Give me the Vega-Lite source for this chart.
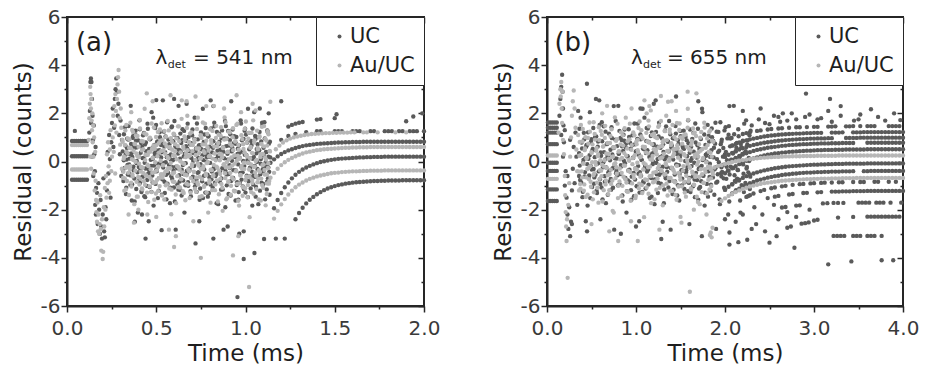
{
"$schema":"https://vega.github.io/schema/vega-lite/v6.json",
"background":"white",
"padding":{"left":11,"top":6,"right":2,"bottom":2},
"bounds":"flush",
"spacing":123,
"resolve":{"scale":{"color":"independent"}},
"config":{
"font":"DejaVu Sans",
"view":{"stroke":"#262626","strokeWidth":2},
"axis":{"labelFont":"DejaVu Sans","titleFont":"DejaVu Sans","labelFontSize":20,"titleFontSize":23,"titleFontWeight":"normal","labelColor":"#3a3a3a","titleColor":"#1e1e1e","domainColor":"#262626","domainWidth":2,"tickColor":"#262626","tickWidth":1.5,"grid":false,"labelPadding":1,"titlePadding":5,"labelFlush":false},
"axisX":{"labelPadding":6,"titlePadding":4},
"legend":{"labelFont":"DejaVu Sans","labelFontSize":21,"labelColor":"#1e1e1e"},
"text":{"font":"DejaVu Sans","color":"#1e1e1e"}
},
"datasets":{
"aU":[
{"t":0.028,"r":0.85},{"t":0.04,"r":0.85},{"t":0.052,"r":0.85},{"t":0.064,"r":0.85},{"t":0.076,"r":0.85},{"t":0.088,"r":0.85},{"t":0.1,"r":0.85},{"t":0.112,"r":0.85},
{"t":0.028,"r":0.22},{"t":0.04,"r":0.22},{"t":0.052,"r":0.22},{"t":0.064,"r":0.22},{"t":0.076,"r":0.22},{"t":0.088,"r":0.22},{"t":0.1,"r":0.22},{"t":0.112,"r":0.22},
{"t":0.028,"r":-0.76},{"t":0.04,"r":-0.76},{"t":0.052,"r":-0.76},{"t":0.064,"r":-0.76},{"t":0.076,"r":-0.76},{"t":0.088,"r":-0.76},{"t":0.1,"r":-0.76},{"t":0.112,"r":-0.76},
{"t":0.044,"r":1.27},
{"t":0.125,"r":1.2},{"t":0.128,"r":2.1},{"t":0.131,"r":3.3},{"t":0.134,"r":3.45},{"t":0.137,"r":3.3},{"t":0.14,"r":2.6},{"t":0.143,"r":1.9},{"t":0.146,"r":0.9},{"t":0.15,"r":1.5},{"t":0.153,"r":0.3},{"t":0.156,"r":-0.4},{"t":0.16,"r":0.6},{"t":0.163,"r":-1.1},{"t":0.14,"r":0.2},{"t":0.147,"r":-0.6},{"t":0.135,"r":1.6},{"t":0.158,"r":-1.8},{"t":0.162,"r":-2.2},
{"t":0.168,"r":-1.3},{"t":0.172,"r":-2.6},{"t":0.176,"r":-0.9},{"t":0.18,"r":-2.0},{"t":0.184,"r":-3.0},{"t":0.188,"r":-1.6},{"t":0.192,"r":-2.7},{"t":0.196,"r":-3.2},{"t":0.2,"r":-2.2},{"t":0.204,"r":-0.7},{"t":0.208,"r":-2.9},{"t":0.212,"r":-3.15},{"t":0.216,"r":-1.9},{"t":0.22,"r":-2.4},{"t":0.224,"r":-1.2},{"t":0.228,"r":0.4},{"t":0.232,"r":-0.5},{"t":0.236,"r":1.1},{"t":0.24,"r":0.1},{"t":0.244,"r":-1.5},{"t":0.248,"r":0.8},{"t":0.252,"r":1.6},
{"t":0.256,"r":2.2},{"t":0.26,"r":0.6},{"t":0.264,"r":1.4},{"t":0.268,"r":2.6},{"t":0.272,"r":3.0},{"t":0.276,"r":3.45},{"t":0.28,"r":2.9},{"t":0.284,"r":1.9},{"t":0.288,"r":2.4},{"t":0.292,"r":1.1},{"t":0.296,"r":0.3},{"t":0.3,"r":1.7},{"t":0.304,"r":-0.6},{"t":0.308,"r":0.9},
{"t":0.312,"r":0.42},{"t":0.316,"r":-0.81},{"t":0.319,"r":1.13},{"t":0.323,"r":-0.27},{"t":0.327,"r":0.66},{"t":0.33,"r":-1.35},{"t":0.334,"r":0.08},{"t":0.337,"r":0.95},{"t":0.341,"r":-0.54},{"t":0.345,"r":1.47},
{"t":0.348,"r":-0.12},{"t":0.352,"r":0.31},{"t":0.355,"r":-0.98},{"t":0.359,"r":0.73},{"t":0.363,"r":-1.62},{"t":0.366,"r":0.19},{"t":0.37,"r":1.05},{"t":0.373,"r":-0.36},{"t":0.377,"r":-0.71},{"t":0.381,"r":0.57},
{"t":0.384,"r":1.28},{"t":0.388,"r":-1.14},{"t":0.391,"r":0.02},{"t":0.395,"r":-0.45},{"t":0.399,"r":0.88},{"t":0.402,"r":-0.23},{"t":0.406,"r":1.71},{"t":0.409,"r":-0.89},{"t":0.413,"r":0.36},{"t":0.417,"r":-1.27},
{"t":0.42,"r":0.61},{"t":0.424,"r":0.14},{"t":0.427,"r":-0.62},{"t":0.431,"r":1.19},{"t":0.435,"r":-0.05},{"t":0.438,"r":-1.48},{"t":0.442,"r":0.79},{"t":0.445,"r":0.27},{"t":0.449,"r":-0.77},{"t":0.453,"r":1.36},
{"t":0.456,"r":-0.31},{"t":0.46,"r":0.52},{"t":0.463,"r":-1.06},{"t":0.467,"r":0.93},{"t":0.471,"r":-0.18},{"t":0.474,"r":2.05},{"t":0.478,"r":-0.58},{"t":0.481,"r":0.11},{"t":0.485,"r":-1.83},{"t":0.489,"r":0.69},
{"t":0.492,"r":0.24},{"t":0.496,"r":-0.93},{"t":0.499,"r":1.52},{"t":0.503,"r":-0.41},{"t":0.507,"r":0.83},{"t":0.51,"r":-0.09},{"t":0.514,"r":-1.21},{"t":0.517,"r":0.47},{"t":0.521,"r":1.01},{"t":0.525,"r":-0.66},
{"t":0.528,"r":0.17},{"t":0.532,"r":-1.38},{"t":0.535,"r":0.74},{"t":0.539,"r":-0.25},{"t":0.543,"r":1.24},{"t":0.546,"r":-0.84},{"t":0.55,"r":0.39},{"t":0.553,"r":-0.03},{"t":0.557,"r":-1.57},{"t":0.561,"r":1.63},
{"t":0.564,"r":-0.49},{"t":0.568,"r":0.91},{"t":0.571,"r":-0.14},{"t":0.575,"r":0.56},{"t":0.579,"r":-1.09},{"t":0.582,"r":0.29},{"t":0.586,"r":1.42},{"t":0.589,"r":-0.72},{"t":0.593,"r":0.05},{"t":0.597,"r":-0.38},
{"t":0.6,"r":1.11},{"t":0.604,"r":-1.66},{"t":0.607,"r":0.63},{"t":0.611,"r":-0.21},{"t":0.615,"r":0.98},{"t":0.618,"r":-0.95},{"t":0.622,"r":0.33},{"t":0.625,"r":2.31},{"t":0.629,"r":-0.57},{"t":0.633,"r":0.12},
{"t":0.636,"r":-1.19},{"t":0.64,"r":0.77},{"t":0.643,"r":-0.34},{"t":0.647,"r":1.34},{"t":0.651,"r":-0.79},{"t":0.654,"r":0.21},{"t":0.658,"r":-2.12},{"t":0.661,"r":0.59},{"t":0.665,"r":-0.07},{"t":0.669,"r":0.86},
{"t":0.672,"r":-0.51},{"t":0.676,"r":1.57},{"t":0.679,"r":-1.01},{"t":0.683,"r":0.43},{"t":0.687,"r":-0.29},{"t":0.69,"r":0.71},{"t":0.694,"r":-1.44},{"t":0.697,"r":0.15},{"t":0.701,"r":1.09},{"t":0.705,"r":-0.63},
{"t":0.708,"r":0.35},{"t":0.712,"r":-0.17},{"t":0.715,"r":1.82},{"t":0.719,"r":-0.87},{"t":0.723,"r":0.54},{"t":0.726,"r":-1.26},{"t":0.73,"r":0.07},{"t":0.733,"r":0.92},{"t":0.737,"r":-0.44},{"t":0.741,"r":-2.48},
{"t":0.744,"r":0.68},{"t":0.748,"r":-0.11},{"t":0.751,"r":1.21},{"t":0.755,"r":-0.69},{"t":0.759,"r":0.26},{"t":0.762,"r":-1.52},{"t":0.766,"r":0.81},{"t":0.769,"r":-0.33},{"t":0.773,"r":0.47},{"t":0.777,"r":1.39},
{"t":0.78,"r":-0.92},{"t":0.784,"r":0.18},{"t":0.787,"r":-0.55},{"t":0.791,"r":1.04},{"t":0.795,"r":-1.31},{"t":0.798,"r":0.62},{"t":0.802,"r":-0.06},{"t":0.805,"r":2.54},{"t":0.809,"r":-0.74},{"t":0.813,"r":0.38},
{"t":0.816,"r":-1.08},{"t":0.82,"r":0.84},{"t":0.823,"r":-0.24},{"t":0.827,"r":1.46},{"t":0.831,"r":-0.61},{"t":0.834,"r":0.09},{"t":0.838,"r":-1.73},{"t":0.841,"r":0.72},{"t":0.845,"r":0.23},{"t":0.849,"r":-0.46},
{"t":0.852,"r":1.16},{"t":0.856,"r":-0.83},{"t":0.859,"r":0.49},{"t":0.863,"r":-1.17},{"t":0.867,"r":0.97},{"t":0.87,"r":-0.28},{"t":0.874,"r":0.58},{"t":0.877,"r":-2.83},{"t":0.881,"r":0.13},{"t":0.885,"r":1.68},
{"t":0.888,"r":-0.39},{"t":0.892,"r":0.64},{"t":0.895,"r":-0.99},{"t":0.899,"r":0.32},{"t":0.903,"r":1.27},{"t":0.906,"r":-0.52},{"t":0.91,"r":-0.15},{"t":0.913,"r":0.89},{"t":0.917,"r":-1.41},{"t":0.921,"r":0.44},
{"t":0.924,"r":0.03},{"t":0.928,"r":1.33},{"t":0.931,"r":-0.68},{"t":0.935,"r":0.76},{"t":0.939,"r":-1.23},{"t":0.942,"r":0.22},{"t":0.946,"r":-0.37},{"t":0.949,"r":1.02},{"t":0.953,"r":-0.86},{"t":0.957,"r":0.53},
{"t":0.96,"r":-1.59},{"t":0.964,"r":0.67},{"t":0.967,"r":0.16},{"t":0.971,"r":-0.47},{"t":0.975,"r":1.58},{"t":0.978,"r":-0.75},{"t":0.982,"r":0.41},{"t":0.985,"r":-1.03},{"t":0.989,"r":0.94},{"t":0.993,"r":-0.19},
{"t":0.996,"r":0.28},{"t":1.0,"r":-1.29},{"t":1.003,"r":1.12},{"t":1.007,"r":-0.59},{"t":1.011,"r":0.06},{"t":1.014,"r":2.19},{"t":1.018,"r":-0.82},{"t":1.021,"r":0.51},{"t":1.025,"r":-0.26},{"t":1.029,"r":-1.12},
{"t":1.032,"r":0.85},{"t":1.036,"r":-0.42},{"t":1.039,"r":1.37},{"t":1.043,"r":-0.96},{"t":1.047,"r":0.19},{"t":1.05,"r":-0.64},{"t":1.054,"r":1.06},{"t":1.057,"r":-1.46},{"t":1.061,"r":0.34},{"t":1.065,"r":-0.01},
{"t":1.068,"r":0.72},{"t":1.072,"r":-1.77},{"t":1.075,"r":0.45},{"t":1.079,"r":1.23},{"t":1.083,"r":-0.53},{"t":1.086,"r":0.1},{"t":1.09,"r":-0.88},{"t":1.093,"r":1.61},{"t":1.097,"r":-0.32},{"t":1.101,"r":0.57},
{"t":1.104,"r":-3.22},{"t":1.108,"r":0.96},{"t":1.111,"r":-0.22},{"t":1.115,"r":0.4},{"t":1.119,"r":-1.16},{"t":1.122,"r":1.29},{"t":1.126,"r":-0.7},{"t":1.129,"r":0.2},{"t":1.133,"r":-0.43},{"t":1.137,"r":0.82},
{"t":0.314,"r":-0.38},{"t":0.318,"r":0.05},{"t":0.321,"r":-0.72},{"t":0.325,"r":1.42},{"t":0.329,"r":0.29},{"t":0.332,"r":-1.09},{"t":0.336,"r":0.56},{"t":0.339,"r":-0.14},{"t":0.343,"r":0.91},{"t":0.347,"r":-0.49},
{"t":0.35,"r":0.12},{"t":0.354,"r":-0.57},{"t":0.357,"r":2.31},{"t":0.361,"r":0.33},{"t":0.365,"r":-0.95},{"t":0.368,"r":0.98},{"t":0.372,"r":-0.21},{"t":0.375,"r":0.63},{"t":0.379,"r":-1.66},{"t":0.383,"r":1.11},
{"t":0.386,"r":0.86},{"t":0.39,"r":-0.07},{"t":0.393,"r":0.59},{"t":0.397,"r":-2.12},{"t":0.401,"r":0.21},{"t":0.404,"r":-0.79},{"t":0.408,"r":1.34},{"t":0.411,"r":-0.34},{"t":0.415,"r":0.77},{"t":0.419,"r":-1.19},
{"t":0.422,"r":-0.63},{"t":0.426,"r":1.09},{"t":0.429,"r":0.15},{"t":0.433,"r":-1.44},{"t":0.437,"r":0.71},{"t":0.44,"r":-0.29},{"t":0.444,"r":0.43},{"t":0.447,"r":-1.01},{"t":0.451,"r":1.57},{"t":0.455,"r":-0.51},
{"t":0.458,"r":-2.48},{"t":0.462,"r":-0.44},{"t":0.465,"r":0.92},{"t":0.469,"r":0.07},{"t":0.473,"r":-1.26},{"t":0.476,"r":0.54},{"t":0.48,"r":-0.87},{"t":0.483,"r":1.82},{"t":0.487,"r":-0.17},{"t":0.491,"r":0.35},
{"t":0.494,"r":1.39},{"t":0.498,"r":0.47},{"t":0.501,"r":-0.33},{"t":0.505,"r":0.81},{"t":0.509,"r":-1.52},{"t":0.512,"r":0.26},{"t":0.516,"r":-0.69},{"t":0.519,"r":1.21},{"t":0.523,"r":-0.11},{"t":0.527,"r":0.68},
{"t":0.53,"r":0.38},{"t":0.534,"r":-0.74},{"t":0.537,"r":2.54},{"t":0.541,"r":-0.06},{"t":0.545,"r":0.62},{"t":0.548,"r":-1.31},{"t":0.552,"r":1.04},{"t":0.555,"r":-0.55},{"t":0.559,"r":0.18},{"t":0.563,"r":-0.92},
{"t":0.566,"r":-0.46},{"t":0.57,"r":0.23},{"t":0.573,"r":0.72},{"t":0.577,"r":-1.73},{"t":0.581,"r":0.09},{"t":0.584,"r":-0.61},{"t":0.588,"r":1.46},{"t":0.591,"r":-0.24},{"t":0.595,"r":0.84},{"t":0.599,"r":-1.08},
{"t":0.602,"r":1.68},{"t":0.606,"r":0.13},{"t":0.609,"r":-2.83},{"t":0.613,"r":0.58},{"t":0.617,"r":-0.28},{"t":0.62,"r":0.97},{"t":0.624,"r":-1.17},{"t":0.627,"r":0.49},{"t":0.631,"r":-0.83},{"t":0.635,"r":1.16},
{"t":0.638,"r":0.44},{"t":0.642,"r":-1.41},{"t":0.645,"r":0.89},{"t":0.649,"r":-0.15},{"t":0.653,"r":-0.52},{"t":0.656,"r":1.27},{"t":0.66,"r":0.32},{"t":0.663,"r":-0.99},{"t":0.667,"r":0.64},{"t":0.671,"r":-0.39},
{"t":0.674,"r":0.53},{"t":0.678,"r":-0.86},{"t":0.681,"r":1.02},{"t":0.685,"r":-0.37},{"t":0.689,"r":0.22},{"t":0.692,"r":-1.23},{"t":0.696,"r":0.76},{"t":0.699,"r":-0.68},{"t":0.703,"r":1.33},{"t":0.707,"r":0.03},
{"t":0.71,"r":-0.19},{"t":0.714,"r":0.94},{"t":0.717,"r":-1.03},{"t":0.721,"r":0.41},{"t":0.725,"r":-0.75},{"t":0.728,"r":1.58},{"t":0.732,"r":-0.47},{"t":0.735,"r":0.16},{"t":0.739,"r":0.67},{"t":0.743,"r":-1.59},
{"t":0.746,"r":-1.12},{"t":0.75,"r":-0.26},{"t":0.753,"r":0.51},{"t":0.757,"r":-0.82},{"t":0.761,"r":2.19},{"t":0.764,"r":0.06},{"t":0.768,"r":-0.59},{"t":0.771,"r":1.12},{"t":0.775,"r":-1.29},{"t":0.779,"r":0.28},
{"t":0.782,"r":-0.01},{"t":0.786,"r":0.34},{"t":0.789,"r":-1.46},{"t":0.793,"r":1.06},{"t":0.797,"r":-0.64},{"t":0.8,"r":0.19},{"t":0.804,"r":-0.96},{"t":0.807,"r":1.37},{"t":0.811,"r":-0.42},{"t":0.815,"r":0.85},
{"t":0.818,"r":0.57},{"t":0.822,"r":-0.32},{"t":0.825,"r":1.61},{"t":0.829,"r":-0.88},{"t":0.833,"r":0.1},{"t":0.836,"r":-0.53},{"t":0.84,"r":1.23},{"t":0.843,"r":0.45},{"t":0.847,"r":-1.77},{"t":0.851,"r":0.72},
{"t":0.854,"r":0.82},{"t":0.858,"r":-0.43},{"t":0.861,"r":0.2},{"t":0.865,"r":-0.7},{"t":0.869,"r":1.29},{"t":0.872,"r":-1.16},{"t":0.876,"r":0.4},{"t":0.879,"r":-0.22},{"t":0.883,"r":0.96},{"t":0.887,"r":-1.9},
{"t":0.89,"r":1.47},{"t":0.894,"r":-0.54},{"t":0.897,"r":0.95},{"t":0.901,"r":0.08},{"t":0.905,"r":-1.35},{"t":0.908,"r":0.66},{"t":0.912,"r":-0.27},{"t":0.915,"r":1.13},{"t":0.919,"r":-0.81},{"t":0.923,"r":0.42},
{"t":0.926,"r":0.57},{"t":0.93,"r":-0.71},{"t":0.933,"r":-0.36},{"t":0.937,"r":1.05},{"t":0.941,"r":0.19},{"t":0.944,"r":-1.62},{"t":0.948,"r":0.73},{"t":0.951,"r":-0.98},{"t":0.955,"r":0.31},{"t":0.959,"r":-0.12},
{"t":0.962,"r":-1.27},{"t":0.966,"r":0.36},{"t":0.969,"r":-0.89},{"t":0.973,"r":1.71},{"t":0.977,"r":-0.23},{"t":0.98,"r":0.88},{"t":0.984,"r":-0.45},{"t":0.987,"r":0.02},{"t":0.991,"r":-1.14},{"t":0.995,"r":1.28},
{"t":0.998,"r":1.36},{"t":1.002,"r":-0.77},{"t":1.005,"r":0.27},{"t":1.009,"r":0.79},{"t":1.013,"r":-1.48},{"t":1.016,"r":-0.05},{"t":1.02,"r":1.19},{"t":1.023,"r":-0.62},{"t":1.027,"r":0.14},{"t":1.031,"r":0.61},
{"t":1.034,"r":0.69},{"t":1.038,"r":-1.83},{"t":1.041,"r":0.11},{"t":1.045,"r":-0.58},{"t":1.049,"r":2.05},{"t":1.052,"r":-0.18},{"t":1.056,"r":0.93},{"t":1.059,"r":-1.06},{"t":1.063,"r":0.52},{"t":1.067,"r":-0.31},
{"t":1.07,"r":-0.66},{"t":1.074,"r":1.01},{"t":1.077,"r":0.47},{"t":1.081,"r":-1.21},{"t":1.085,"r":-0.09},{"t":1.088,"r":0.83},{"t":1.092,"r":-0.41},{"t":1.095,"r":1.52},{"t":1.099,"r":-0.93},{"t":1.103,"r":0.24},
{"t":1.106,"r":1.63},{"t":1.11,"r":-1.57},{"t":1.113,"r":-0.03},{"t":1.117,"r":0.39},{"t":1.121,"r":-0.84},{"t":1.124,"r":1.24},{"t":1.128,"r":-0.25},{"t":1.131,"r":0.74},{"t":1.135,"r":-1.38},{"t":1.139,"r":0.17},
{"t":0.5,"r":2.55},{"t":0.6,"r":2.6},{"t":0.67,"r":2.4},{"t":0.82,"r":2.3},{"t":0.92,"r":2.5},{"t":1.08,"r":2.2},{"t":1.2,"r":2.5},{"t":1.13,"r":2.0},{"t":0.955,"r":-5.63},{"t":0.99,"r":-4.05},{"t":1.05,"r":-3.8},{"t":0.44,"r":-3.2},{"t":0.53,"r":-2.85},{"t":0.72,"r":-3.4},{"t":0.82,"r":-3.2},{"t":0.965,"r":-3.0},{"t":1.17,"r":-3.2},{"t":1.22,"r":-3.2},{"t":0.38,"r":-2.5},{"t":0.42,"r":-2.2},{"t":0.9,"r":-2.7},{"t":0.99,"r":-2.9},
{"t":1.28,"r":-2.4},{"t":1.3,"r":-2.14},{"t":1.32,"r":-1.92},{"t":1.34,"r":-1.74},{"t":1.36,"r":-1.59},{"t":1.38,"r":-1.47},{"t":1.4,"r":-1.36},{"t":1.42,"r":-1.27},{"t":1.44,"r":-1.19},{"t":1.46,"r":-1.12},{"t":1.48,"r":-1.07},{"t":1.5,"r":-1.02},{"t":1.52,"r":-0.98},{"t":1.54,"r":-0.95},{"t":1.56,"r":-0.92},{"t":1.58,"r":-0.9},{"t":1.6,"r":-0.88},{"t":1.62,"r":-0.86},{"t":1.64,"r":-0.85},{"t":1.66,"r":-0.84},{"t":1.68,"r":-0.83},{"t":1.7,"r":-0.82},{"t":1.72,"r":-0.81},{"t":1.74,"r":-0.81},{"t":1.76,"r":-0.8},{"t":1.78,"r":-0.8},{"t":1.8,"r":-0.79},{"t":1.82,"r":-0.79},{"t":1.84,"r":-0.79},{"t":1.86,"r":-0.79},{"t":1.88,"r":-0.78},{"t":1.9,"r":-0.78},{"t":1.92,"r":-0.78},{"t":1.94,"r":-0.78},{"t":1.96,"r":-0.78},{"t":1.98,"r":-0.78},{"t":2.0,"r":-0.78},
{"t":1.16,"r":-1.94},{"t":1.18,"r":-1.6},{"t":1.2,"r":-1.31},{"t":1.22,"r":-1.07},{"t":1.24,"r":-0.87},{"t":1.26,"r":-0.7},{"t":1.28,"r":-0.55},{"t":1.3,"r":-0.43},{"t":1.32,"r":-0.33},{"t":1.34,"r":-0.25},{"t":1.36,"r":-0.18},{"t":1.38,"r":-0.12},{"t":1.4,"r":-0.07},{"t":1.42,"r":-0.02},{"t":1.44,"r":0.01},{"t":1.46,"r":0.04},{"t":1.48,"r":0.07},{"t":1.5,"r":0.09},{"t":1.52,"r":0.11},{"t":1.54,"r":0.12},{"t":1.56,"r":0.13},{"t":1.58,"r":0.14},{"t":1.6,"r":0.15},{"t":1.62,"r":0.16},{"t":1.64,"r":0.17},{"t":1.66,"r":0.17},{"t":1.68,"r":0.18},{"t":1.7,"r":0.18},{"t":1.72,"r":0.19},{"t":1.74,"r":0.19},{"t":1.76,"r":0.19},{"t":1.78,"r":0.2},{"t":1.8,"r":0.2},{"t":1.82,"r":0.2},{"t":1.84,"r":0.2},{"t":1.86,"r":0.2},{"t":1.88,"r":0.2},{"t":1.9,"r":0.2},{"t":1.92,"r":0.2},{"t":1.94,"r":0.2},{"t":1.96,"r":0.2},{"t":1.98,"r":0.2},{"t":2.0,"r":0.2},
{"t":1.1,"r":-0.41},{"t":1.12,"r":-0.21},{"t":1.14,"r":-0.05},{"t":1.16,"r":0.09},{"t":1.18,"r":0.21},{"t":1.2,"r":0.31},{"t":1.22,"r":0.39},{"t":1.24,"r":0.46},{"t":1.26,"r":0.51},{"t":1.28,"r":0.56},{"t":1.3,"r":0.6},{"t":1.32,"r":0.64},{"t":1.34,"r":0.67},{"t":1.36,"r":0.69},{"t":1.38,"r":0.71},{"t":1.4,"r":0.73},{"t":1.42,"r":0.74},{"t":1.44,"r":0.75},{"t":1.46,"r":0.76},{"t":1.48,"r":0.77},{"t":1.5,"r":0.78},{"t":1.52,"r":0.79},{"t":1.54,"r":0.79},{"t":1.56,"r":0.8},{"t":1.58,"r":0.8},{"t":1.6,"r":0.81},{"t":1.62,"r":0.81},{"t":1.64,"r":0.81},{"t":1.66,"r":0.82},{"t":1.68,"r":0.82},{"t":1.7,"r":0.82},{"t":1.72,"r":0.82},{"t":1.74,"r":0.82},{"t":1.76,"r":0.82},{"t":1.78,"r":0.82},{"t":1.8,"r":0.82},{"t":1.82,"r":0.82},{"t":1.84,"r":0.82},{"t":1.86,"r":0.82},{"t":1.88,"r":0.82},{"t":1.9,"r":0.82},{"t":1.92,"r":0.82},{"t":1.94,"r":0.82},{"t":1.96,"r":0.82},{"t":1.98,"r":0.82},{"t":2.0,"r":0.82},
{"t":1.2,"r":0.9},{"t":1.24,"r":1.06},{"t":1.28,"r":1.15},{"t":1.34,"r":1.22},{"t":1.4,"r":1.26},{"t":1.42,"r":1.26},{"t":1.5,"r":1.26},{"t":1.52,"r":1.26},{"t":1.54,"r":1.26},{"t":1.6,"r":1.26},{"t":1.62,"r":1.26},{"t":1.64,"r":1.26},{"t":1.7,"r":1.26},{"t":1.72,"r":1.26},{"t":1.78,"r":1.26},{"t":1.8,"r":1.26},{"t":1.82,"r":1.26},{"t":1.86,"r":1.26},{"t":1.88,"r":1.26},{"t":1.92,"r":1.26},{"t":1.94,"r":1.26},{"t":1.96,"r":1.26},{"t":2.0,"r":1.26},
{"t":1.24,"r":1.45},{"t":1.26,"r":1.52},{"t":1.28,"r":1.57},{"t":1.3,"r":1.61},{"t":1.32,"r":1.64},{"t":1.4,"r":1.74},{"t":1.42,"r":1.76},{"t":1.5,"r":1.8},{"t":1.51,"r":1.96},{"t":1.9,"r":1.67},{"t":1.94,"r":1.87},{"t":1.99,"r":2.0}
],
"aA":[
{"t":0.028,"r":0.68},{"t":0.04,"r":0.68},{"t":0.052,"r":0.68},{"t":0.064,"r":0.68},{"t":0.076,"r":0.68},{"t":0.088,"r":0.68},{"t":0.1,"r":0.68},{"t":0.112,"r":0.68},
{"t":0.028,"r":-0.33},{"t":0.04,"r":-0.33},{"t":0.052,"r":-0.33},{"t":0.064,"r":-0.33},{"t":0.076,"r":-0.33},{"t":0.088,"r":-0.33},{"t":0.1,"r":-0.33},{"t":0.112,"r":-0.33},
{"t":0.122,"r":0.9},{"t":0.125,"r":1.8},{"t":0.128,"r":2.4},{"t":0.13,"r":3.1},{"t":0.132,"r":2.8},{"t":0.134,"r":2.2},{"t":0.136,"r":2.6},{"t":0.138,"r":1.7},{"t":0.14,"r":1.3},{"t":0.142,"r":2.0},{"t":0.144,"r":0.8},{"t":0.146,"r":1.5},{"t":0.148,"r":0.2},{"t":0.15,"r":-0.5},{"t":0.152,"r":1.0},{"t":0.155,"r":-1.2},{"t":0.158,"r":0.4},{"t":0.16,"r":-0.8},{"t":0.163,"r":-1.6},{"t":0.165,"r":-2.1},
{"t":0.168,"r":-2.5},{"t":0.171,"r":-1.7},{"t":0.174,"r":-2.9},{"t":0.177,"r":-2.2},{"t":0.18,"r":-3.0},{"t":0.183,"r":-2.6},{"t":0.186,"r":-1.4},{"t":0.189,"r":-2.8},{"t":0.192,"r":-3.7},{"t":0.196,"r":-2.4},{"t":0.2,"r":-4.05},{"t":0.203,"r":-3.75},{"t":0.206,"r":-1.9},{"t":0.209,"r":-2.7},{"t":0.212,"r":-1.1},{"t":0.215,"r":-2.0},{"t":0.218,"r":-0.6},{"t":0.221,"r":-1.5},{"t":0.224,"r":0.3},{"t":0.227,"r":-0.9},{"t":0.23,"r":0.8},{"t":0.233,"r":-0.2},{"t":0.236,"r":-1.3},{"t":0.24,"r":0.5},{"t":0.244,"r":1.3},{"t":0.248,"r":-0.4},{"t":0.252,"r":0.2},
{"t":0.256,"r":1.0},{"t":0.259,"r":1.9},{"t":0.262,"r":0.4},{"t":0.265,"r":2.3},{"t":0.268,"r":1.5},{"t":0.271,"r":2.8},{"t":0.274,"r":2.1},{"t":0.277,"r":1.2},{"t":0.28,"r":2.6},{"t":0.283,"r":3.2},{"t":0.286,"r":3.5},{"t":0.289,"r":3.8},{"t":0.292,"r":2.9},{"t":0.295,"r":1.8},{"t":0.298,"r":0.7},{"t":0.301,"r":2.2},{"t":0.304,"r":1.4},{"t":0.307,"r":-0.3},{"t":0.31,"r":0.9},{"t":0.13,"r":0.2},{"t":0.135,"r":-0.3},{"t":0.24,"r":-0.8},{"t":0.27,"r":-0.5},
{"t":0.312,"r":0.82},{"t":0.316,"r":-0.43},{"t":0.319,"r":0.2},{"t":0.323,"r":-0.7},{"t":0.327,"r":1.29},{"t":0.33,"r":-1.16},{"t":0.334,"r":0.4},{"t":0.337,"r":-0.22},{"t":0.341,"r":0.96},{"t":0.345,"r":-2.2},
{"t":0.348,"r":0.57},{"t":0.352,"r":-0.32},{"t":0.355,"r":1.61},{"t":0.359,"r":-0.88},{"t":0.363,"r":0.1},{"t":0.366,"r":-0.53},{"t":0.37,"r":1.23},{"t":0.373,"r":0.45},{"t":0.377,"r":-1.77},{"t":0.381,"r":0.72},
{"t":0.384,"r":-0.01},{"t":0.388,"r":0.34},{"t":0.391,"r":-1.46},{"t":0.395,"r":1.06},{"t":0.399,"r":-0.64},{"t":0.402,"r":0.19},{"t":0.406,"r":-0.96},{"t":0.409,"r":1.37},{"t":0.413,"r":-0.42},{"t":0.417,"r":0.85},
{"t":0.42,"r":-1.12},{"t":0.424,"r":-0.26},{"t":0.427,"r":0.51},{"t":0.431,"r":-0.82},{"t":0.435,"r":2.19},{"t":0.438,"r":0.06},{"t":0.442,"r":-0.59},{"t":0.445,"r":1.12},{"t":0.449,"r":-1.29},{"t":0.453,"r":0.28},
{"t":0.456,"r":-0.19},{"t":0.46,"r":0.94},{"t":0.463,"r":-1.03},{"t":0.467,"r":0.41},{"t":0.471,"r":-0.75},{"t":0.474,"r":1.58},{"t":0.478,"r":-0.47},{"t":0.481,"r":0.16},{"t":0.485,"r":0.67},{"t":0.489,"r":-1.59},
{"t":0.492,"r":0.53},{"t":0.496,"r":-0.86},{"t":0.499,"r":1.02},{"t":0.503,"r":-0.37},{"t":0.507,"r":0.22},{"t":0.51,"r":-1.23},{"t":0.514,"r":0.76},{"t":0.517,"r":-0.68},{"t":0.521,"r":1.33},{"t":0.525,"r":0.03},
{"t":0.528,"r":0.44},{"t":0.532,"r":-1.41},{"t":0.535,"r":0.89},{"t":0.539,"r":-0.15},{"t":0.543,"r":-0.52},{"t":0.546,"r":1.27},{"t":0.55,"r":0.32},{"t":0.553,"r":-0.99},{"t":0.557,"r":0.64},{"t":0.561,"r":-0.39},
{"t":0.564,"r":1.68},{"t":0.568,"r":0.13},{"t":0.571,"r":-2.83},{"t":0.575,"r":0.58},{"t":0.579,"r":-0.28},{"t":0.582,"r":0.97},{"t":0.586,"r":-1.17},{"t":0.589,"r":0.49},{"t":0.593,"r":-0.83},{"t":0.597,"r":1.16},
{"t":0.6,"r":-0.46},{"t":0.604,"r":0.23},{"t":0.607,"r":0.72},{"t":0.611,"r":-1.73},{"t":0.615,"r":0.09},{"t":0.618,"r":-0.61},{"t":0.622,"r":1.46},{"t":0.625,"r":-0.24},{"t":0.629,"r":0.84},{"t":0.633,"r":-1.08},
{"t":0.636,"r":0.38},{"t":0.64,"r":-0.74},{"t":0.643,"r":2.54},{"t":0.647,"r":-0.06},{"t":0.651,"r":0.62},{"t":0.654,"r":-1.31},{"t":0.658,"r":1.04},{"t":0.661,"r":-0.55},{"t":0.665,"r":0.18},{"t":0.669,"r":-0.92},
{"t":0.672,"r":1.39},{"t":0.676,"r":0.47},{"t":0.679,"r":-0.33},{"t":0.683,"r":0.81},{"t":0.687,"r":-1.52},{"t":0.69,"r":0.26},{"t":0.694,"r":-0.69},{"t":0.697,"r":1.21},{"t":0.701,"r":-0.11},{"t":0.705,"r":0.68},
{"t":0.708,"r":-2.48},{"t":0.712,"r":-0.44},{"t":0.715,"r":0.92},{"t":0.719,"r":0.07},{"t":0.723,"r":-1.26},{"t":0.726,"r":0.54},{"t":0.73,"r":-0.87},{"t":0.733,"r":1.82},{"t":0.737,"r":-0.17},{"t":0.741,"r":0.35},
{"t":0.744,"r":-0.63},{"t":0.748,"r":1.09},{"t":0.751,"r":0.15},{"t":0.755,"r":-1.44},{"t":0.759,"r":0.71},{"t":0.762,"r":-0.29},{"t":0.766,"r":0.43},{"t":0.769,"r":-1.01},{"t":0.773,"r":1.57},{"t":0.777,"r":-0.51},
{"t":0.78,"r":0.86},{"t":0.784,"r":-0.07},{"t":0.787,"r":0.59},{"t":0.791,"r":-2.12},{"t":0.795,"r":0.21},{"t":0.798,"r":-0.79},{"t":0.802,"r":1.34},{"t":0.805,"r":-0.34},{"t":0.809,"r":0.77},{"t":0.813,"r":-1.19},
{"t":0.816,"r":0.12},{"t":0.82,"r":-0.57},{"t":0.823,"r":2.31},{"t":0.827,"r":0.33},{"t":0.831,"r":-0.95},{"t":0.834,"r":0.98},{"t":0.838,"r":-0.21},{"t":0.841,"r":0.63},{"t":0.845,"r":-1.66},{"t":0.849,"r":1.11},
{"t":0.852,"r":-0.38},{"t":0.856,"r":0.05},{"t":0.859,"r":-0.72},{"t":0.863,"r":1.42},{"t":0.867,"r":0.29},{"t":0.87,"r":-1.09},{"t":0.874,"r":0.56},{"t":0.877,"r":-0.14},{"t":0.881,"r":0.91},{"t":0.885,"r":-0.49},
{"t":0.888,"r":1.63},{"t":0.892,"r":-1.57},{"t":0.895,"r":-0.03},{"t":0.899,"r":0.39},{"t":0.903,"r":-0.84},{"t":0.906,"r":1.24},{"t":0.91,"r":-0.25},{"t":0.913,"r":0.74},{"t":0.917,"r":-1.38},{"t":0.921,"r":0.17},
{"t":0.924,"r":-0.66},{"t":0.928,"r":1.01},{"t":0.931,"r":0.47},{"t":0.935,"r":-1.21},{"t":0.939,"r":-0.09},{"t":0.942,"r":0.83},{"t":0.946,"r":-0.41},{"t":0.949,"r":1.52},{"t":0.953,"r":-0.93},{"t":0.957,"r":0.24},
{"t":0.96,"r":0.69},{"t":0.964,"r":-1.83},{"t":0.967,"r":0.11},{"t":0.971,"r":-0.58},{"t":0.975,"r":2.05},{"t":0.978,"r":-0.18},{"t":0.982,"r":0.93},{"t":0.985,"r":-1.06},{"t":0.989,"r":0.52},{"t":0.993,"r":-0.31},
{"t":0.996,"r":1.36},{"t":1.0,"r":-0.77},{"t":1.003,"r":0.27},{"t":1.007,"r":0.79},{"t":1.011,"r":-1.48},{"t":1.014,"r":-0.05},{"t":1.018,"r":1.19},{"t":1.021,"r":-0.62},{"t":1.025,"r":0.14},{"t":1.029,"r":0.61},
{"t":1.032,"r":-1.27},{"t":1.036,"r":0.36},{"t":1.039,"r":-0.89},{"t":1.043,"r":1.71},{"t":1.047,"r":-0.23},{"t":1.05,"r":0.88},{"t":1.054,"r":-0.45},{"t":1.057,"r":0.02},{"t":1.061,"r":-1.14},{"t":1.065,"r":1.28},
{"t":1.068,"r":0.57},{"t":1.072,"r":-0.71},{"t":1.075,"r":-0.36},{"t":1.079,"r":1.05},{"t":1.083,"r":0.19},{"t":1.086,"r":-1.62},{"t":1.09,"r":0.73},{"t":1.093,"r":-0.98},{"t":1.097,"r":0.31},{"t":1.101,"r":-0.12},
{"t":1.104,"r":1.47},{"t":1.108,"r":-0.54},{"t":1.111,"r":0.95},{"t":1.115,"r":0.08},{"t":1.119,"r":-1.35},{"t":1.122,"r":0.66},{"t":1.126,"r":-0.27},{"t":1.129,"r":1.13},{"t":1.133,"r":-0.81},{"t":1.137,"r":0.42},
{"t":0.314,"r":-0.68},{"t":0.318,"r":0.11},{"t":0.321,"r":-1.21},{"t":0.325,"r":0.69},{"t":0.329,"r":-0.26},{"t":0.332,"r":1.52},{"t":0.336,"r":-0.81},{"t":0.339,"r":0.33},{"t":0.343,"r":-0.47},{"t":0.347,"r":-1.39},
{"t":0.35,"r":0.92},{"t":0.354,"r":-0.18},{"t":0.357,"r":0.55},{"t":0.361,"r":-1.04},{"t":0.365,"r":1.31},{"t":0.368,"r":-0.62},{"t":0.372,"r":0.06},{"t":0.375,"r":-2.54},{"t":0.379,"r":0.74},{"t":0.383,"r":-0.38},
{"t":0.386,"r":1.08},{"t":0.39,"r":-0.84},{"t":0.393,"r":0.24},{"t":0.397,"r":-1.46},{"t":0.401,"r":0.61},{"t":0.404,"r":-0.09},{"t":0.408,"r":1.73},{"t":0.411,"r":-0.72},{"t":0.415,"r":-0.23},{"t":0.419,"r":0.46},
{"t":0.422,"r":-1.16},{"t":0.426,"r":0.83},{"t":0.429,"r":-0.49},{"t":0.433,"r":1.17},{"t":0.437,"r":-0.97},{"t":0.44,"r":0.28},{"t":0.444,"r":-0.58},{"t":0.447,"r":2.83},{"t":0.451,"r":-0.13},{"t":0.455,"r":-1.68},
{"t":0.458,"r":0.39},{"t":0.462,"r":-0.64},{"t":0.465,"r":0.99},{"t":0.469,"r":-0.32},{"t":0.473,"r":-1.27},{"t":0.476,"r":0.52},{"t":0.48,"r":0.15},{"t":0.483,"r":-0.89},{"t":0.487,"r":1.41},{"t":0.491,"r":-0.44},
{"t":0.494,"r":-0.03},{"t":0.498,"r":-1.33},{"t":0.501,"r":0.68},{"t":0.505,"r":-0.76},{"t":0.509,"r":1.23},{"t":0.512,"r":-0.22},{"t":0.516,"r":0.37},{"t":0.519,"r":-1.02},{"t":0.523,"r":0.86},{"t":0.527,"r":-0.53},
{"t":0.53,"r":1.59},{"t":0.534,"r":-0.67},{"t":0.537,"r":-0.16},{"t":0.541,"r":0.47},{"t":0.545,"r":-1.58},{"t":0.548,"r":0.75},{"t":0.552,"r":-0.41},{"t":0.555,"r":1.03},{"t":0.559,"r":-0.94},{"t":0.563,"r":0.19},
{"t":0.566,"r":-0.28},{"t":0.57,"r":1.29},{"t":0.573,"r":-1.12},{"t":0.577,"r":0.59},{"t":0.581,"r":-0.06},{"t":0.584,"r":-2.19},{"t":0.588,"r":0.82},{"t":0.591,"r":-0.51},{"t":0.595,"r":0.26},{"t":0.599,"r":1.12},
{"t":0.602,"r":-0.85},{"t":0.606,"r":0.42},{"t":0.609,"r":-1.37},{"t":0.613,"r":0.96},{"t":0.617,"r":-0.19},{"t":0.62,"r":0.64},{"t":0.624,"r":-1.06},{"t":0.627,"r":1.46},{"t":0.631,"r":-0.34},{"t":0.635,"r":0.01},
{"t":0.638,"r":-0.72},{"t":0.642,"r":1.77},{"t":0.645,"r":-0.45},{"t":0.649,"r":-1.23},{"t":0.653,"r":0.53},{"t":0.656,"r":-0.1},{"t":0.66,"r":0.88},{"t":0.663,"r":-1.61},{"t":0.667,"r":0.32},{"t":0.671,"r":-0.57},
{"t":0.674,"r":1.9},{"t":0.678,"r":-0.96},{"t":0.681,"r":0.22},{"t":0.685,"r":-0.4},{"t":0.689,"r":1.16},{"t":0.692,"r":-1.29},{"t":0.696,"r":0.7},{"t":0.699,"r":-0.2},{"t":0.703,"r":0.43},{"t":0.707,"r":-0.82},
{"t":0.71,"r":-0.42},{"t":0.714,"r":0.81},{"t":0.717,"r":-1.13},{"t":0.721,"r":0.27},{"t":0.725,"r":-0.66},{"t":0.728,"r":1.35},{"t":0.732,"r":-0.08},{"t":0.735,"r":-0.95},{"t":0.739,"r":0.54},{"t":0.743,"r":-1.47},
{"t":0.746,"r":0.12},{"t":0.75,"r":-0.31},{"t":0.753,"r":0.98},{"t":0.757,"r":-0.73},{"t":0.761,"r":1.62},{"t":0.764,"r":-0.19},{"t":0.768,"r":-1.05},{"t":0.771,"r":0.36},{"t":0.775,"r":0.71},{"t":0.779,"r":-0.57},
{"t":0.782,"r":-1.28},{"t":0.786,"r":1.14},{"t":0.789,"r":-0.02},{"t":0.793,"r":0.45},{"t":0.797,"r":-0.88},{"t":0.8,"r":0.23},{"t":0.804,"r":-1.71},{"t":0.807,"r":0.89},{"t":0.811,"r":-0.36},{"t":0.815,"r":1.27},
{"t":0.818,"r":-0.61},{"t":0.822,"r":-0.14},{"t":0.825,"r":0.62},{"t":0.829,"r":-1.19},{"t":0.833,"r":0.05},{"t":0.836,"r":1.48},{"t":0.84,"r":-0.79},{"t":0.843,"r":-0.27},{"t":0.847,"r":0.77},{"t":0.851,"r":-1.36},
{"t":0.854,"r":0.31},{"t":0.858,"r":-0.52},{"t":0.861,"r":1.06},{"t":0.865,"r":-0.93},{"t":0.869,"r":0.18},{"t":0.872,"r":-2.05},{"t":0.876,"r":0.58},{"t":0.879,"r":-0.11},{"t":0.883,"r":1.83},{"t":0.887,"r":-0.69},
{"t":0.89,"r":-0.24},{"t":0.894,"r":0.93},{"t":0.897,"r":-1.52},{"t":0.901,"r":0.41},{"t":0.905,"r":-0.83},{"t":0.908,"r":0.09},{"t":0.912,"r":1.21},{"t":0.915,"r":-0.47},{"t":0.919,"r":-1.01},{"t":0.923,"r":0.66},
{"t":0.926,"r":-0.17},{"t":0.93,"r":1.38},{"t":0.933,"r":-0.74},{"t":0.937,"r":0.25},{"t":0.941,"r":-1.24},{"t":0.944,"r":0.84},{"t":0.948,"r":-0.39},{"t":0.951,"r":0.03},{"t":0.955,"r":1.57},{"t":0.959,"r":-1.63},
{"t":0.962,"r":0.49},{"t":0.966,"r":-0.91},{"t":0.969,"r":0.14},{"t":0.973,"r":-0.56},{"t":0.977,"r":1.09},{"t":0.98,"r":-0.29},{"t":0.984,"r":-1.42},{"t":0.987,"r":0.72},{"t":0.991,"r":-0.05},{"t":0.995,"r":0.38},
{"t":0.998,"r":-1.11},{"t":1.002,"r":1.66},{"t":1.005,"r":-0.63},{"t":1.009,"r":0.21},{"t":1.013,"r":-0.98},{"t":1.016,"r":0.95},{"t":1.02,"r":-0.33},{"t":1.023,"r":-2.31},{"t":1.027,"r":0.57},{"t":1.031,"r":-0.12},
{"t":1.034,"r":1.19},{"t":1.038,"r":-0.77},{"t":1.041,"r":0.34},{"t":1.045,"r":-1.34},{"t":1.049,"r":0.79},{"t":1.052,"r":-0.21},{"t":1.056,"r":2.12},{"t":1.059,"r":-0.59},{"t":1.063,"r":0.07},{"t":1.067,"r":-0.86},
{"t":1.07,"r":0.51},{"t":1.074,"r":-1.57},{"t":1.077,"r":1.01},{"t":1.081,"r":-0.43},{"t":1.085,"r":0.29},{"t":1.088,"r":-0.71},{"t":1.092,"r":1.44},{"t":1.095,"r":-0.15},{"t":1.099,"r":-1.09},{"t":1.103,"r":0.63},
{"t":1.106,"r":-0.35},{"t":1.11,"r":0.17},{"t":1.113,"r":-1.82},{"t":1.117,"r":0.87},{"t":1.121,"r":-0.54},{"t":1.124,"r":1.26},{"t":1.128,"r":-0.07},{"t":1.131,"r":-0.92},{"t":1.135,"r":0.44},{"t":1.139,"r":2.48},
{"t":0.48,"r":2.5},{"t":0.58,"r":2.75},{"t":0.67,"r":2.5},{"t":0.72,"r":2.7},{"t":0.78,"r":2.3},{"t":0.95,"r":2.75},{"t":0.6,"r":-3.55},{"t":0.61,"r":-3.1},{"t":0.75,"r":-4.0},{"t":0.93,"r":-3.9},{"t":0.96,"r":-3.1},{"t":1.02,"r":-5.21},{"t":0.4,"r":-2.0},{"t":0.45,"r":-2.2},{"t":0.5,"r":-2.3},{"t":0.36,"r":2.05},{"t":0.88,"r":2.2},{"t":1.04,"r":2.4},
{"t":1.16,"r":-2.37},{"t":1.18,"r":-2.05},{"t":1.2,"r":-1.78},{"t":1.22,"r":-1.56},{"t":1.24,"r":-1.37},{"t":1.26,"r":-1.21},{"t":1.28,"r":-1.07},{"t":1.3,"r":-0.96},{"t":1.32,"r":-0.87},{"t":1.34,"r":-0.79},{"t":1.36,"r":-0.72},{"t":1.38,"r":-0.67},{"t":1.4,"r":-0.62},{"t":1.42,"r":-0.58},{"t":1.44,"r":-0.55},{"t":1.46,"r":-0.52},{"t":1.48,"r":-0.49},{"t":1.5,"r":-0.47},{"t":1.52,"r":-0.46},{"t":1.54,"r":-0.44},{"t":1.56,"r":-0.43},{"t":1.58,"r":-0.42},{"t":1.6,"r":-0.41},{"t":1.62,"r":-0.41},{"t":1.64,"r":-0.4},{"t":1.66,"r":-0.39},{"t":1.68,"r":-0.39},{"t":1.7,"r":-0.38},{"t":1.72,"r":-0.38},{"t":1.74,"r":-0.38},{"t":1.76,"r":-0.38},{"t":1.78,"r":-0.37},{"t":1.8,"r":-0.37},{"t":1.82,"r":-0.37},{"t":1.84,"r":-0.37},{"t":1.86,"r":-0.37},{"t":1.88,"r":-0.37},{"t":1.9,"r":-0.37},{"t":1.92,"r":-0.37},{"t":1.94,"r":-0.37},{"t":1.96,"r":-0.37},{"t":1.98,"r":-0.37},{"t":2.0,"r":-0.37},
{"t":1.12,"r":-0.91},{"t":1.14,"r":-0.67},{"t":1.16,"r":-0.47},{"t":1.18,"r":-0.3},{"t":1.2,"r":-0.15},{"t":1.22,"r":-0.03},{"t":1.24,"r":0.07},{"t":1.26,"r":0.15},{"t":1.28,"r":0.22},{"t":1.3,"r":0.28},{"t":1.32,"r":0.33},{"t":1.34,"r":0.38},{"t":1.36,"r":0.41},{"t":1.38,"r":0.44},{"t":1.4,"r":0.47},{"t":1.42,"r":0.49},{"t":1.44,"r":0.51},{"t":1.46,"r":0.52},{"t":1.48,"r":0.53},{"t":1.5,"r":0.54},{"t":1.52,"r":0.55},{"t":1.54,"r":0.56},{"t":1.56,"r":0.57},{"t":1.58,"r":0.57},{"t":1.6,"r":0.58},{"t":1.62,"r":0.58},{"t":1.64,"r":0.59},{"t":1.66,"r":0.59},{"t":1.68,"r":0.59},{"t":1.7,"r":0.6},{"t":1.72,"r":0.6},{"t":1.74,"r":0.6},{"t":1.76,"r":0.6},{"t":1.78,"r":0.6},{"t":1.8,"r":0.6},{"t":1.82,"r":0.6},{"t":1.84,"r":0.6},{"t":1.86,"r":0.6},{"t":1.88,"r":0.6},{"t":1.9,"r":0.6},{"t":1.92,"r":0.6},{"t":1.94,"r":0.6},{"t":1.96,"r":0.6},{"t":1.98,"r":0.6},{"t":2.0,"r":0.6},
{"t":1.17,"r":0.51},{"t":1.19,"r":0.66},{"t":1.21,"r":0.79},{"t":1.23,"r":0.88},{"t":1.25,"r":0.95},{"t":1.27,"r":1.0},{"t":1.29,"r":1.04},{"t":1.31,"r":1.07},{"t":1.33,"r":1.1},{"t":1.35,"r":1.12},{"t":1.37,"r":1.14},{"t":1.39,"r":1.15},{"t":1.41,"r":1.16},{"t":1.43,"r":1.17},{"t":1.45,"r":1.18},{"t":1.47,"r":1.18},{"t":1.49,"r":1.19},{"t":1.51,"r":1.19},{"t":1.53,"r":1.2},{"t":1.55,"r":1.2},{"t":1.57,"r":1.2},{"t":1.59,"r":1.21},{"t":1.61,"r":1.21},{"t":1.66,"r":1.21},{"t":1.68,"r":1.21},{"t":1.74,"r":1.21},{"t":1.84,"r":1.21},{"t":1.9,"r":1.21}
],
"bU":[
{"t":0.01,"r":1.62},{"t":0.035,"r":1.62},{"t":0.06,"r":1.62},{"t":0.085,"r":1.62},{"t":0.11,"r":1.62},
{"t":0.01,"r":1.4},{"t":0.035,"r":1.4},{"t":0.06,"r":1.4},{"t":0.085,"r":1.4},{"t":0.11,"r":1.4},
{"t":0.01,"r":1.2},{"t":0.035,"r":1.2},{"t":0.06,"r":1.2},{"t":0.085,"r":1.2},{"t":0.11,"r":1.2},
{"t":0.01,"r":0.72},{"t":0.035,"r":0.72},{"t":0.06,"r":0.72},{"t":0.085,"r":0.72},{"t":0.11,"r":0.72},
{"t":0.01,"r":-0.05},{"t":0.035,"r":-0.05},{"t":0.06,"r":-0.05},{"t":0.085,"r":-0.05},{"t":0.11,"r":-0.05},
{"t":0.01,"r":-0.39},{"t":0.035,"r":-0.39},{"t":0.06,"r":-0.39},{"t":0.085,"r":-0.39},{"t":0.11,"r":-0.39},
{"t":0.01,"r":-1.16},{"t":0.035,"r":-1.16},{"t":0.06,"r":-1.16},{"t":0.085,"r":-1.16},{"t":0.11,"r":-1.16},
{"t":0.01,"r":-1.64},{"t":0.035,"r":-1.64},{"t":0.06,"r":-1.64},{"t":0.085,"r":-1.64},{"t":0.11,"r":-1.64},
{"t":0.14,"r":1.9},{"t":0.15,"r":2.6},{"t":0.16,"r":3.1},{"t":0.17,"r":3.6},{"t":0.175,"r":2.9},{"t":0.18,"r":2.2},{"t":0.185,"r":1.5},{"t":0.19,"r":0.8},{"t":0.2,"r":1.3},{"t":0.21,"r":-0.4},{"t":0.22,"r":-1.5},{"t":0.23,"r":-2.2},{"t":0.24,"r":-2.8},{"t":0.25,"r":-1.9},{"t":0.26,"r":-3.1},{"t":0.27,"r":-2.5},{"t":0.28,"r":-1.2},{"t":0.29,"r":-0.3},{"t":0.3,"r":0.6},{"t":0.31,"r":-0.9},{"t":0.32,"r":1.2},{"t":0.33,"r":0.2},{"t":0.34,"r":-1.8},{"t":0.35,"r":2.1},{"t":0.36,"r":-0.6},{"t":0.16,"r":1.1},{"t":0.18,"r":0.2},{"t":0.2,"r":-1.0},{"t":0.23,"r":-0.6},{"t":0.26,"r":0.9},
{"t":0.36,"r":0.35},{"t":0.368,"r":-0.17},{"t":0.377,"r":1.82},{"t":0.385,"r":-0.87},{"t":0.394,"r":0.54},{"t":0.402,"r":-1.26},{"t":0.41,"r":0.07},{"t":0.419,"r":0.92},{"t":0.427,"r":-0.44},{"t":0.436,"r":-2.48},
{"t":0.444,"r":0.68},{"t":0.452,"r":-0.11},{"t":0.461,"r":1.21},{"t":0.469,"r":-0.69},{"t":0.478,"r":0.26},{"t":0.486,"r":-1.52},{"t":0.494,"r":0.81},{"t":0.503,"r":-0.33},{"t":0.511,"r":0.47},{"t":0.52,"r":1.39},
{"t":0.528,"r":-0.92},{"t":0.536,"r":0.18},{"t":0.545,"r":-0.55},{"t":0.553,"r":1.04},{"t":0.562,"r":-1.31},{"t":0.57,"r":0.62},{"t":0.578,"r":-0.06},{"t":0.587,"r":2.54},{"t":0.595,"r":-0.74},{"t":0.604,"r":0.38},
{"t":0.612,"r":-1.08},{"t":0.62,"r":0.84},{"t":0.629,"r":-0.24},{"t":0.637,"r":1.46},{"t":0.646,"r":-0.61},{"t":0.654,"r":0.09},{"t":0.662,"r":-1.73},{"t":0.671,"r":0.72},{"t":0.679,"r":0.23},{"t":0.688,"r":-0.46},
{"t":0.696,"r":1.16},{"t":0.704,"r":-0.83},{"t":0.713,"r":0.49},{"t":0.721,"r":-1.17},{"t":0.73,"r":0.97},{"t":0.738,"r":-0.28},{"t":0.746,"r":0.58},{"t":0.755,"r":-2.83},{"t":0.763,"r":0.13},{"t":0.772,"r":1.68},
{"t":0.78,"r":-0.39},{"t":0.788,"r":0.64},{"t":0.797,"r":-0.99},{"t":0.805,"r":0.32},{"t":0.814,"r":1.27},{"t":0.822,"r":-0.52},{"t":0.83,"r":-0.15},{"t":0.839,"r":0.89},{"t":0.847,"r":-1.41},{"t":0.856,"r":0.44},
{"t":0.864,"r":0.03},{"t":0.872,"r":1.33},{"t":0.881,"r":-0.68},{"t":0.889,"r":0.76},{"t":0.898,"r":-1.23},{"t":0.906,"r":0.22},{"t":0.914,"r":-0.37},{"t":0.923,"r":1.02},{"t":0.931,"r":-0.86},{"t":0.94,"r":0.53},
{"t":0.948,"r":-1.59},{"t":0.956,"r":0.67},{"t":0.965,"r":0.16},{"t":0.973,"r":-0.47},{"t":0.982,"r":1.58},{"t":0.99,"r":-0.75},{"t":0.998,"r":0.41},{"t":1.007,"r":-1.03},{"t":1.015,"r":0.94},{"t":1.024,"r":-0.19},
{"t":1.032,"r":0.28},{"t":1.04,"r":-1.29},{"t":1.049,"r":1.12},{"t":1.057,"r":-0.59},{"t":1.066,"r":0.06},{"t":1.074,"r":2.19},{"t":1.082,"r":-0.82},{"t":1.091,"r":0.51},{"t":1.099,"r":-0.26},{"t":1.108,"r":-1.12},
{"t":1.116,"r":0.85},{"t":1.124,"r":-0.42},{"t":1.133,"r":1.37},{"t":1.141,"r":-0.96},{"t":1.15,"r":0.19},{"t":1.158,"r":-0.64},{"t":1.166,"r":1.06},{"t":1.175,"r":-1.46},{"t":1.183,"r":0.34},{"t":1.192,"r":-0.01},
{"t":1.2,"r":0.72},{"t":1.208,"r":-1.77},{"t":1.217,"r":0.45},{"t":1.225,"r":1.23},{"t":1.234,"r":-0.53},{"t":1.242,"r":0.1},{"t":1.25,"r":-0.88},{"t":1.259,"r":1.61},{"t":1.267,"r":-0.32},{"t":1.276,"r":0.57},
{"t":1.284,"r":-3.22},{"t":1.292,"r":0.96},{"t":1.301,"r":-0.22},{"t":1.309,"r":0.4},{"t":1.318,"r":-1.16},{"t":1.326,"r":1.29},{"t":1.334,"r":-0.7},{"t":1.343,"r":0.2},{"t":1.351,"r":-0.43},{"t":1.36,"r":0.82},
{"t":1.368,"r":0.42},{"t":1.376,"r":-0.81},{"t":1.385,"r":1.13},{"t":1.393,"r":-0.27},{"t":1.402,"r":0.66},{"t":1.41,"r":-1.35},{"t":1.418,"r":0.08},{"t":1.427,"r":0.95},{"t":1.435,"r":-0.54},{"t":1.444,"r":1.47},
{"t":1.452,"r":-0.12},{"t":1.46,"r":0.31},{"t":1.469,"r":-0.98},{"t":1.477,"r":0.73},{"t":1.486,"r":-1.62},{"t":1.494,"r":0.19},{"t":1.502,"r":1.05},{"t":1.511,"r":-0.36},{"t":1.519,"r":-0.71},{"t":1.528,"r":0.57},
{"t":1.536,"r":1.28},{"t":1.544,"r":-1.14},{"t":1.553,"r":0.02},{"t":1.561,"r":-0.45},{"t":1.57,"r":0.88},{"t":1.578,"r":-0.23},{"t":1.586,"r":1.71},{"t":1.595,"r":-0.89},{"t":1.603,"r":0.36},{"t":1.612,"r":-1.27},
{"t":1.62,"r":0.61},{"t":1.628,"r":0.14},{"t":1.637,"r":-0.62},{"t":1.645,"r":1.19},{"t":1.654,"r":-0.05},{"t":1.662,"r":-1.48},{"t":1.67,"r":0.79},{"t":1.679,"r":0.27},{"t":1.687,"r":-0.77},{"t":1.696,"r":1.36},
{"t":1.704,"r":-0.31},{"t":1.712,"r":0.52},{"t":1.721,"r":-1.06},{"t":1.729,"r":0.93},{"t":1.738,"r":-0.18},{"t":1.746,"r":2.05},{"t":1.754,"r":-0.58},{"t":1.763,"r":0.11},{"t":1.771,"r":-1.83},{"t":1.78,"r":0.69},
{"t":1.788,"r":0.24},{"t":1.796,"r":-0.93},{"t":1.805,"r":1.52},{"t":1.813,"r":-0.41},{"t":1.822,"r":0.83},{"t":1.83,"r":-0.09},{"t":1.838,"r":-1.21},{"t":1.847,"r":0.47},{"t":1.855,"r":1.01},{"t":1.864,"r":-0.66},
{"t":1.872,"r":0.17},{"t":1.88,"r":-1.38},{"t":1.889,"r":0.74},{"t":1.897,"r":-0.25},{"t":1.906,"r":1.24},{"t":1.914,"r":-0.84},{"t":1.922,"r":0.39},{"t":1.931,"r":-0.03},{"t":1.939,"r":-1.57},{"t":1.948,"r":1.63},
{"t":1.956,"r":-0.49},{"t":1.964,"r":0.91},{"t":1.973,"r":-0.14},{"t":1.981,"r":0.56},{"t":1.99,"r":-1.09},{"t":1.998,"r":0.29},{"t":2.006,"r":1.42},{"t":2.015,"r":-0.72},{"t":2.023,"r":0.05},{"t":2.032,"r":-0.38},
{"t":2.04,"r":1.11},{"t":2.048,"r":-1.66},{"t":2.057,"r":0.63},{"t":2.065,"r":-0.21},{"t":2.074,"r":0.98},{"t":2.082,"r":-0.95},{"t":2.09,"r":0.33},{"t":2.099,"r":2.31},{"t":2.107,"r":-0.57},{"t":2.116,"r":0.12},
{"t":2.124,"r":-1.19},{"t":2.132,"r":0.77},{"t":2.141,"r":-0.34},{"t":2.149,"r":1.34},{"t":2.158,"r":-0.79},{"t":2.166,"r":0.21},{"t":2.174,"r":-2.12},{"t":2.183,"r":0.59},{"t":2.191,"r":-0.07},{"t":2.2,"r":0.86},
{"t":2.208,"r":-0.51},{"t":2.216,"r":1.57},{"t":2.225,"r":-1.01},{"t":2.233,"r":0.43},{"t":2.242,"r":-0.29},{"t":2.25,"r":0.71},{"t":2.258,"r":-1.44},{"t":2.267,"r":0.15},{"t":2.275,"r":1.09},{"t":2.284,"r":-0.63},
{"t":0.364,"r":1.36},{"t":0.372,"r":-0.77},{"t":0.381,"r":0.27},{"t":0.389,"r":0.79},{"t":0.398,"r":-1.48},{"t":0.406,"r":-0.05},{"t":0.414,"r":1.19},{"t":0.423,"r":-0.62},{"t":0.431,"r":0.14},{"t":0.44,"r":0.61},
{"t":0.448,"r":0.69},{"t":0.456,"r":-1.83},{"t":0.465,"r":0.11},{"t":0.473,"r":-0.58},{"t":0.482,"r":2.05},{"t":0.49,"r":-0.18},{"t":0.498,"r":0.93},{"t":0.507,"r":-1.06},{"t":0.515,"r":0.52},{"t":0.524,"r":-0.31},
{"t":0.532,"r":-0.66},{"t":0.54,"r":1.01},{"t":0.549,"r":0.47},{"t":0.557,"r":-1.21},{"t":0.566,"r":-0.09},{"t":0.574,"r":0.83},{"t":0.582,"r":-0.41},{"t":0.591,"r":1.52},{"t":0.599,"r":-0.93},{"t":0.608,"r":0.24},
{"t":0.616,"r":1.63},{"t":0.624,"r":-1.57},{"t":0.633,"r":-0.03},{"t":0.641,"r":0.39},{"t":0.65,"r":-0.84},{"t":0.658,"r":1.24},{"t":0.666,"r":-0.25},{"t":0.675,"r":0.74},{"t":0.683,"r":-1.38},{"t":0.692,"r":0.17},
{"t":0.7,"r":-0.38},{"t":0.708,"r":0.05},{"t":0.717,"r":-0.72},{"t":0.725,"r":1.42},{"t":0.734,"r":0.29},{"t":0.742,"r":-1.09},{"t":0.75,"r":0.56},{"t":0.759,"r":-0.14},{"t":0.767,"r":0.91},{"t":0.776,"r":-0.49},
{"t":0.784,"r":0.12},{"t":0.792,"r":-0.57},{"t":0.801,"r":2.31},{"t":0.809,"r":0.33},{"t":0.818,"r":-0.95},{"t":0.826,"r":0.98},{"t":0.834,"r":-0.21},{"t":0.843,"r":0.63},{"t":0.851,"r":-1.66},{"t":0.86,"r":1.11},
{"t":0.868,"r":0.86},{"t":0.876,"r":-0.07},{"t":0.885,"r":0.59},{"t":0.893,"r":-2.12},{"t":0.902,"r":0.21},{"t":0.91,"r":-0.79},{"t":0.918,"r":1.34},{"t":0.927,"r":-0.34},{"t":0.935,"r":0.77},{"t":0.944,"r":-1.19},
{"t":0.952,"r":-0.63},{"t":0.96,"r":1.09},{"t":0.969,"r":0.15},{"t":0.977,"r":-1.44},{"t":0.986,"r":0.71},{"t":0.994,"r":-0.29},{"t":1.002,"r":0.43},{"t":1.011,"r":-1.01},{"t":1.019,"r":1.57},{"t":1.028,"r":-0.51},
{"t":1.036,"r":-2.48},{"t":1.044,"r":-0.44},{"t":1.053,"r":0.92},{"t":1.061,"r":0.07},{"t":1.07,"r":-1.26},{"t":1.078,"r":0.54},{"t":1.086,"r":-0.87},{"t":1.095,"r":1.82},{"t":1.103,"r":-0.17},{"t":1.112,"r":0.35},
{"t":1.12,"r":1.39},{"t":1.128,"r":0.47},{"t":1.137,"r":-0.33},{"t":1.145,"r":0.81},{"t":1.154,"r":-1.52},{"t":1.162,"r":0.26},{"t":1.17,"r":-0.69},{"t":1.179,"r":1.21},{"t":1.187,"r":-0.11},{"t":1.196,"r":0.68},
{"t":1.204,"r":0.38},{"t":1.212,"r":-0.74},{"t":1.221,"r":2.54},{"t":1.229,"r":-0.06},{"t":1.238,"r":0.62},{"t":1.246,"r":-1.31},{"t":1.254,"r":1.04},{"t":1.263,"r":-0.55},{"t":1.271,"r":0.18},{"t":1.28,"r":-0.92},
{"t":1.288,"r":-0.46},{"t":1.296,"r":0.23},{"t":1.305,"r":0.72},{"t":1.313,"r":-1.73},{"t":1.322,"r":0.09},{"t":1.33,"r":-0.61},{"t":1.338,"r":1.46},{"t":1.347,"r":-0.24},{"t":1.355,"r":0.84},{"t":1.364,"r":-1.08},
{"t":1.372,"r":1.68},{"t":1.38,"r":0.13},{"t":1.389,"r":-2.83},{"t":1.397,"r":0.58},{"t":1.406,"r":-0.28},{"t":1.414,"r":0.97},{"t":1.422,"r":-1.17},{"t":1.431,"r":0.49},{"t":1.439,"r":-0.83},{"t":1.448,"r":1.16},
{"t":1.456,"r":0.44},{"t":1.464,"r":-1.41},{"t":1.473,"r":0.89},{"t":1.481,"r":-0.15},{"t":1.49,"r":-0.52},{"t":1.498,"r":1.27},{"t":1.506,"r":0.32},{"t":1.515,"r":-0.99},{"t":1.523,"r":0.64},{"t":1.532,"r":-0.39},
{"t":1.54,"r":0.53},{"t":1.548,"r":-0.86},{"t":1.557,"r":1.02},{"t":1.565,"r":-0.37},{"t":1.574,"r":0.22},{"t":1.582,"r":-1.23},{"t":1.59,"r":0.76},{"t":1.599,"r":-0.68},{"t":1.607,"r":1.33},{"t":1.616,"r":0.03},
{"t":1.624,"r":-0.19},{"t":1.632,"r":0.94},{"t":1.641,"r":-1.03},{"t":1.649,"r":0.41},{"t":1.658,"r":-0.75},{"t":1.666,"r":1.58},{"t":1.674,"r":-0.47},{"t":1.683,"r":0.16},{"t":1.691,"r":0.67},{"t":1.7,"r":-1.59},
{"t":1.708,"r":-1.12},{"t":1.716,"r":-0.26},{"t":1.725,"r":0.51},{"t":1.733,"r":-0.82},{"t":1.742,"r":2.19},{"t":1.75,"r":0.06},{"t":1.758,"r":-0.59},{"t":1.767,"r":1.12},{"t":1.775,"r":-1.29},{"t":1.784,"r":0.28},
{"t":1.792,"r":-0.01},{"t":1.8,"r":0.34},{"t":1.809,"r":-1.46},{"t":1.817,"r":1.06},{"t":1.826,"r":-0.64},{"t":1.834,"r":0.19},{"t":1.842,"r":-0.96},{"t":1.851,"r":1.37},{"t":1.859,"r":-0.42},{"t":1.868,"r":0.85},
{"t":1.876,"r":0.57},{"t":1.884,"r":-0.32},{"t":1.893,"r":1.61},{"t":1.901,"r":-0.88},{"t":1.91,"r":0.1},{"t":1.918,"r":-0.53},{"t":1.926,"r":1.23},{"t":1.935,"r":0.45},{"t":1.943,"r":-1.77},{"t":1.952,"r":0.72},
{"t":1.96,"r":0.82},{"t":1.968,"r":-0.43},{"t":1.977,"r":0.2},{"t":1.985,"r":-0.7},{"t":1.994,"r":1.29},{"t":2.002,"r":-1.16},{"t":2.01,"r":0.4},{"t":2.019,"r":-0.22},{"t":2.027,"r":0.96},{"t":2.036,"r":-2.2},
{"t":2.044,"r":1.47},{"t":2.052,"r":-0.54},{"t":2.061,"r":0.95},{"t":2.069,"r":0.08},{"t":2.078,"r":-1.35},{"t":2.086,"r":0.66},{"t":2.094,"r":-0.27},{"t":2.103,"r":1.13},{"t":2.111,"r":-0.81},{"t":2.12,"r":0.42},
{"t":2.128,"r":0.57},{"t":2.136,"r":-0.71},{"t":2.145,"r":-0.36},{"t":2.153,"r":1.05},{"t":2.162,"r":0.19},{"t":2.17,"r":-1.62},{"t":2.178,"r":0.73},{"t":2.187,"r":-0.98},{"t":2.195,"r":0.31},{"t":2.204,"r":-0.12},
{"t":2.212,"r":-1.27},{"t":2.22,"r":0.36},{"t":2.229,"r":-0.89},{"t":2.237,"r":1.71},{"t":2.246,"r":-0.23},{"t":2.254,"r":0.88},{"t":2.262,"r":-0.45},{"t":2.271,"r":0.02},{"t":2.279,"r":-1.14},{"t":2.288,"r":1.28},
{"t":0.449,"r":3.23},{"t":1.45,"r":2.7},{"t":2.91,"r":2.82},{"t":3.18,"r":2.6},{"t":3.64,"r":2.17},{"t":2.05,"r":2.3},{"t":3.16,"r":-4.27},{"t":3.42,"r":-4.15},{"t":3.76,"r":-4.1},{"t":3.89,"r":-4.1},{"t":2.78,"r":-3.58},{"t":2.5,"r":-3.37},{"t":2.05,"r":-3.45},{"t":2.15,"r":-3.35},{"t":2.25,"r":-3.25},{"t":0.83,"r":-3.0},{"t":1.74,"r":-3.1},{"t":0.55,"r":2.6},{"t":0.75,"r":2.3},{"t":1.05,"r":2.2},{"t":1.2,"r":2.4},{"t":1.7,"r":2.5},{"t":2.2,"r":2.1},{"t":2.4,"r":2.2},{"t":2.65,"r":2.0},{"t":3.3,"r":2.3},{"t":3.52,"r":1.95},{"t":3.9,"r":2.0},{"t":2.6,"r":1.85},{"t":2.35,"r":-2.6},{"t":2.45,"r":-2.9},{"t":2.0,"r":-2.4},{"t":1.9,"r":-2.8},{"t":1.6,"r":-2.6},{"t":1.3,"r":-2.5},{"t":1.0,"r":-2.7},{"t":0.6,"r":-2.4},{"t":0.45,"r":-2.9},{"t":0.28,"r":-2.6},
{"t":3.04,"r":1.75},{"t":3.08,"r":1.8},{"t":3.16,"r":2.1},{"t":3.2,"r":1.65},{"t":3.3,"r":1.9},{"t":3.45,"r":1.7},{"t":3.5,"r":1.75},{"t":3.72,"r":1.85},{"t":3.8,"r":1.7},{"t":3.97,"r":1.72},{"t":2.7,"r":1.7},{"t":2.8,"r":1.75},{"t":2.95,"r":1.95},{"t":2.55,"r":1.9},{"t":2.45,"r":1.6},
{"t":2.3,"r":1.5},{"t":2.38,"r":1.75},{"t":2.5,"r":1.55},{"t":2.62,"r":1.65},{"t":2.75,"r":2.0},{"t":2.9,"r":1.85},{"t":2.33,"r":-1.9},{"t":2.42,"r":-2.2},{"t":2.55,"r":-1.8},{"t":2.6,"r":-2.4},{"t":2.7,"r":-2.1},{"t":2.8,"r":-2.3},{"t":2.95,"r":-2.0},{"t":2.3,"r":-2.8},{"t":2.58,"r":-3.1},{"t":2.05,"r":-2.95},{"t":2.12,"r":-2.5},{"t":2.2,"r":-2.2},
{"t":2.2,"r":1.14},{"t":2.24,"r":1.18},{"t":2.28,"r":1.21},{"t":2.36,"r":1.27},{"t":2.4,"r":1.29},{"t":2.48,"r":1.33},{"t":2.52,"r":1.35},{"t":2.6,"r":1.37},{"t":2.64,"r":1.38},{"t":2.72,"r":1.4},{"t":2.8,"r":1.42},{"t":2.84,"r":1.42},{"t":2.92,"r":1.43},{"t":3.0,"r":1.44},{"t":3.04,"r":1.44},{"t":3.16,"r":1.45},{"t":3.2,"r":1.45},{"t":3.24,"r":1.46},{"t":3.36,"r":1.46},{"t":3.4,"r":1.46},{"t":3.44,"r":1.47},{"t":3.52,"r":1.47},{"t":3.6,"r":1.47},{"t":3.64,"r":1.47},{"t":3.68,"r":1.47},{"t":3.84,"r":1.47},{"t":3.88,"r":1.47},{"t":3.92,"r":1.47},{"t":3.96,"r":1.47},
{"t":2.08,"r":0.67},{"t":2.12,"r":0.73},{"t":2.16,"r":0.79},{"t":2.2,"r":0.84},{"t":2.24,"r":0.88},{"t":2.28,"r":0.92},{"t":2.32,"r":0.95},{"t":2.36,"r":0.98},{"t":2.4,"r":1.01},{"t":2.44,"r":1.04},{"t":2.48,"r":1.06},{"t":2.52,"r":1.08},{"t":2.56,"r":1.09},{"t":2.6,"r":1.11},{"t":2.64,"r":1.12},{"t":2.68,"r":1.13},{"t":2.72,"r":1.14},{"t":2.76,"r":1.15},{"t":2.8,"r":1.16},{"t":2.84,"r":1.16},{"t":2.88,"r":1.17},{"t":2.92,"r":1.18},{"t":2.96,"r":1.18},{"t":3.0,"r":1.19},{"t":3.04,"r":1.19},{"t":3.08,"r":1.19},{"t":3.2,"r":1.2},{"t":3.24,"r":1.2},{"t":3.28,"r":1.2},{"t":3.32,"r":1.21},{"t":3.44,"r":1.21},{"t":3.48,"r":1.21},{"t":3.52,"r":1.21},{"t":3.56,"r":1.22},{"t":3.6,"r":1.22},{"t":3.64,"r":1.22},{"t":3.68,"r":1.22},{"t":3.72,"r":1.22},{"t":3.76,"r":1.22},{"t":3.8,"r":1.22},{"t":3.84,"r":1.22},{"t":3.88,"r":1.22},{"t":3.92,"r":1.22},{"t":3.96,"r":1.22},{"t":4.0,"r":1.22},
{"t":2.0,"r":0.19},{"t":2.04,"r":0.28},{"t":2.08,"r":0.36},{"t":2.12,"r":0.43},{"t":2.16,"r":0.5},{"t":2.2,"r":0.55},{"t":2.24,"r":0.6},{"t":2.28,"r":0.65},{"t":2.32,"r":0.69},{"t":2.36,"r":0.72},{"t":2.4,"r":0.75},{"t":2.44,"r":0.78},{"t":2.48,"r":0.8},{"t":2.52,"r":0.82},{"t":2.56,"r":0.84},{"t":2.6,"r":0.86},{"t":2.64,"r":0.87},{"t":2.68,"r":0.89},{"t":2.72,"r":0.9},{"t":2.76,"r":0.91},{"t":2.8,"r":0.92},{"t":2.84,"r":0.93},{"t":2.88,"r":0.93},{"t":2.92,"r":0.94},{"t":2.96,"r":0.95},{"t":3.0,"r":0.95},{"t":3.04,"r":0.96},{"t":3.08,"r":0.96},{"t":3.12,"r":0.96},{"t":3.16,"r":0.97},{"t":3.2,"r":0.97},{"t":3.36,"r":0.98},{"t":3.4,"r":0.98},{"t":3.44,"r":0.98},{"t":3.48,"r":0.98},{"t":3.52,"r":0.99},{"t":3.56,"r":0.99},{"t":3.6,"r":0.99},{"t":3.64,"r":0.99},{"t":3.68,"r":0.99},{"t":3.72,"r":0.99},{"t":3.76,"r":0.99},{"t":3.8,"r":0.99},{"t":3.84,"r":0.99},{"t":3.88,"r":0.99},{"t":3.92,"r":0.99},{"t":3.96,"r":0.99},{"t":4.0,"r":0.99},
{"t":1.96,"r":-0.24},{"t":2.0,"r":-0.12},{"t":2.04,"r":-0.02},{"t":2.08,"r":0.07},{"t":2.12,"r":0.15},{"t":2.16,"r":0.23},{"t":2.2,"r":0.29},{"t":2.24,"r":0.34},{"t":2.28,"r":0.39},{"t":2.32,"r":0.44},{"t":2.36,"r":0.48},{"t":2.4,"r":0.51},{"t":2.44,"r":0.54},{"t":2.48,"r":0.57},{"t":2.52,"r":0.59},{"t":2.56,"r":0.61},{"t":2.6,"r":0.63},{"t":2.64,"r":0.65},{"t":2.68,"r":0.66},{"t":2.72,"r":0.68},{"t":2.76,"r":0.69},{"t":2.8,"r":0.7},{"t":2.84,"r":0.71},{"t":2.88,"r":0.72},{"t":2.92,"r":0.72},{"t":2.96,"r":0.73},{"t":3.0,"r":0.74},{"t":3.04,"r":0.74},{"t":3.08,"r":0.75},{"t":3.12,"r":0.75},{"t":3.16,"r":0.75},{"t":3.2,"r":0.76},{"t":3.24,"r":0.76},{"t":3.28,"r":0.76},{"t":3.32,"r":0.77},{"t":3.36,"r":0.77},{"t":3.4,"r":0.77},{"t":3.44,"r":0.77},{"t":3.6,"r":0.78},{"t":3.64,"r":0.78},{"t":3.68,"r":0.78},{"t":3.72,"r":0.78},{"t":3.76,"r":0.78},{"t":3.8,"r":0.78},{"t":3.84,"r":0.78},{"t":3.88,"r":0.78},{"t":3.92,"r":0.78},{"t":3.96,"r":0.78},{"t":4.0,"r":0.78},
{"t":1.96,"r":-0.62},{"t":2.0,"r":-0.49},{"t":2.04,"r":-0.38},{"t":2.08,"r":-0.28},{"t":2.12,"r":-0.19},{"t":2.16,"r":-0.11},{"t":2.2,"r":-0.04},{"t":2.24,"r":0.03},{"t":2.28,"r":0.08},{"t":2.32,"r":0.13},{"t":2.36,"r":0.17},{"t":2.4,"r":0.21},{"t":2.44,"r":0.25},{"t":2.48,"r":0.28},{"t":2.52,"r":0.3},{"t":2.56,"r":0.33},{"t":2.6,"r":0.35},{"t":2.64,"r":0.37},{"t":2.68,"r":0.38},{"t":2.72,"r":0.4},{"t":2.76,"r":0.41},{"t":2.8,"r":0.42},{"t":2.84,"r":0.43},{"t":2.88,"r":0.44},{"t":2.92,"r":0.45},{"t":2.96,"r":0.45},{"t":3.0,"r":0.46},{"t":3.04,"r":0.47},{"t":3.08,"r":0.47},{"t":3.12,"r":0.48},{"t":3.16,"r":0.48},{"t":3.2,"r":0.48},{"t":3.24,"r":0.49},{"t":3.28,"r":0.49},{"t":3.32,"r":0.49},{"t":3.36,"r":0.5},{"t":3.4,"r":0.5},{"t":3.44,"r":0.5},{"t":3.48,"r":0.5},{"t":3.52,"r":0.5},{"t":3.56,"r":0.5},{"t":3.6,"r":0.51},{"t":3.64,"r":0.51},{"t":3.68,"r":0.51},{"t":3.72,"r":0.51},{"t":3.76,"r":0.51},{"t":3.8,"r":0.51},{"t":3.84,"r":0.51},{"t":3.88,"r":0.51},{"t":3.92,"r":0.51},{"t":3.96,"r":0.51},{"t":4.0,"r":0.51},
{"t":2.0,"r":-1.18},{"t":2.04,"r":-1.05},{"t":2.08,"r":-0.94},{"t":2.12,"r":-0.84},{"t":2.16,"r":-0.76},{"t":2.2,"r":-0.68},{"t":2.24,"r":-0.61},{"t":2.28,"r":-0.55},{"t":2.32,"r":-0.5},{"t":2.36,"r":-0.45},{"t":2.4,"r":-0.41},{"t":2.44,"r":-0.37},{"t":2.48,"r":-0.34},{"t":2.52,"r":-0.31},{"t":2.56,"r":-0.28},{"t":2.6,"r":-0.26},{"t":2.64,"r":-0.24},{"t":2.68,"r":-0.22},{"t":2.72,"r":-0.2},{"t":2.76,"r":-0.19},{"t":2.8,"r":-0.18},{"t":2.84,"r":-0.17},{"t":2.88,"r":-0.16},{"t":2.92,"r":-0.15},{"t":2.96,"r":-0.14},{"t":3.0,"r":-0.13},{"t":3.04,"r":-0.13},{"t":3.08,"r":-0.12},{"t":3.12,"r":-0.12},{"t":3.16,"r":-0.11},{"t":3.2,"r":-0.11},{"t":3.24,"r":-0.1},{"t":3.28,"r":-0.1},{"t":3.32,"r":-0.1},{"t":3.36,"r":-0.09},{"t":3.4,"r":-0.09},{"t":3.44,"r":-0.09},{"t":3.48,"r":-0.09},{"t":3.52,"r":-0.09},{"t":3.56,"r":-0.09},{"t":3.6,"r":-0.08},{"t":3.64,"r":-0.08},{"t":3.68,"r":-0.08},{"t":3.72,"r":-0.08},{"t":3.76,"r":-0.08},{"t":3.8,"r":-0.08},{"t":3.84,"r":-0.08},{"t":3.88,"r":-0.08},{"t":3.92,"r":-0.08},{"t":3.96,"r":-0.08},{"t":4.0,"r":-0.08},
{"t":2.08,"r":-1.33},{"t":2.12,"r":-1.22},{"t":2.16,"r":-1.13},{"t":2.2,"r":-1.05},{"t":2.24,"r":-0.97},{"t":2.28,"r":-0.9},{"t":2.32,"r":-0.85},{"t":2.36,"r":-0.79},{"t":2.4,"r":-0.75},{"t":2.44,"r":-0.71},{"t":2.48,"r":-0.67},{"t":2.52,"r":-0.64},{"t":2.56,"r":-0.61},{"t":2.6,"r":-0.59},{"t":2.64,"r":-0.56},{"t":2.68,"r":-0.54},{"t":2.72,"r":-0.53},{"t":2.76,"r":-0.51},{"t":2.8,"r":-0.5},{"t":2.84,"r":-0.48},{"t":2.88,"r":-0.47},{"t":2.92,"r":-0.46},{"t":2.96,"r":-0.46},{"t":3.0,"r":-0.45},{"t":3.04,"r":-0.44},{"t":3.08,"r":-0.44},{"t":3.12,"r":-0.43},{"t":3.16,"r":-0.43},{"t":3.2,"r":-0.42},{"t":3.24,"r":-0.42},{"t":3.28,"r":-0.42},{"t":3.32,"r":-0.41},{"t":3.36,"r":-0.41},{"t":3.4,"r":-0.41},{"t":3.44,"r":-0.4},{"t":3.56,"r":-0.4},{"t":3.6,"r":-0.4},{"t":3.64,"r":-0.39},{"t":3.68,"r":-0.39},{"t":3.72,"r":-0.39},{"t":3.76,"r":-0.39},{"t":3.8,"r":-0.39},{"t":3.84,"r":-0.39},{"t":3.88,"r":-0.39},{"t":3.92,"r":-0.39},{"t":3.96,"r":-0.39},{"t":4.0,"r":-0.39},
{"t":2.24,"r":-1.47},{"t":2.28,"r":-1.4},{"t":2.32,"r":-1.33},{"t":2.4,"r":-1.23},{"t":2.44,"r":-1.18},{"t":2.52,"r":-1.11},{"t":2.56,"r":-1.08},{"t":2.64,"r":-1.03},{"t":2.68,"r":-1.01},{"t":2.76,"r":-0.97},{"t":2.84,"r":-0.94},{"t":2.88,"r":-0.93},{"t":2.96,"r":-0.91},{"t":3.0,"r":-0.9},{"t":3.08,"r":-0.89},{"t":3.12,"r":-0.88},{"t":3.2,"r":-0.87},{"t":3.28,"r":-0.86},{"t":3.32,"r":-0.86},{"t":3.44,"r":-0.85},{"t":3.52,"r":-0.85},{"t":3.56,"r":-0.85},{"t":3.68,"r":-0.84},{"t":3.72,"r":-0.84},{"t":3.84,"r":-0.84},{"t":3.92,"r":-0.84},
{"t":2.48,"r":-1.52},{"t":2.56,"r":-1.46},{"t":2.6,"r":-1.43},{"t":2.72,"r":-1.37},{"t":2.76,"r":-1.35},{"t":2.88,"r":-1.31},{"t":2.92,"r":-1.3},{"t":3.04,"r":-1.28},{"t":3.08,"r":-1.27},{"t":3.2,"r":-1.25},{"t":3.24,"r":-1.25},{"t":3.28,"r":-1.25},{"t":3.32,"r":-1.24},{"t":3.36,"r":-1.24},{"t":3.4,"r":-1.24},{"t":3.44,"r":-1.23},{"t":3.48,"r":-1.23},{"t":3.52,"r":-1.23},{"t":3.56,"r":-1.23},{"t":3.6,"r":-1.22},{"t":3.64,"r":-1.22},{"t":3.68,"r":-1.22},{"t":3.72,"r":-1.22},{"t":3.76,"r":-1.22},{"t":3.8,"r":-1.22},{"t":3.84,"r":-1.22},{"t":3.88,"r":-1.22},{"t":3.92,"r":-1.22},{"t":3.96,"r":-1.22},{"t":4.0,"r":-1.22},
{"t":2.64,"r":-1.91},{"t":2.68,"r":-1.89},{"t":2.8,"r":-1.83},{"t":2.84,"r":-1.82},{"t":3.1,"r":-1.74},{"t":3.15,"r":-1.73},{"t":3.22,"r":-1.72},{"t":3.27,"r":-1.72},{"t":3.33,"r":-1.72},{"t":3.5,"r":-1.71},{"t":3.54,"r":-1.71},{"t":3.58,"r":-1.71},{"t":3.62,"r":-1.71},{"t":3.7,"r":-1.71},{"t":3.74,"r":-1.71},{"t":3.78,"r":-1.71},{"t":3.86,"r":-1.71},{"t":3.98,"r":-1.71},
{"t":2.7,"r":-2.75},{"t":2.74,"r":-2.7},{"t":2.86,"r":-2.58},{"t":2.9,"r":-2.56},{"t":2.94,"r":-2.53},{"t":3.0,"r":-2.45},{"t":3.04,"r":-2.42},{"t":3.27,"r":-2.33},{"t":3.44,"r":-2.3},{"t":3.6,"r":-2.29},{"t":3.64,"r":-2.29},{"t":3.68,"r":-2.29},{"t":3.72,"r":-2.29},{"t":3.76,"r":-2.29},{"t":3.8,"r":-2.29},{"t":3.84,"r":-2.29},{"t":3.88,"r":-2.29},{"t":3.92,"r":-2.29},{"t":3.96,"r":-2.29},
{"t":3.22,"r":-3.09},{"t":3.26,"r":-3.09},{"t":3.3,"r":-3.09},{"t":3.34,"r":-3.09},{"t":3.44,"r":-3.09},{"t":3.48,"r":-3.09},{"t":3.52,"r":-3.09},{"t":3.6,"r":-3.09},{"t":3.64,"r":-3.09},{"t":3.68,"r":-3.09},{"t":3.76,"r":-3.09}
],
"bA":[
{"t":0.01,"r":0.25},{"t":0.035,"r":0.25},{"t":0.06,"r":0.25},{"t":0.085,"r":0.25},{"t":0.11,"r":0.25},
{"t":0.01,"r":-0.72},{"t":0.035,"r":-0.72},{"t":0.06,"r":-0.72},{"t":0.085,"r":-0.72},{"t":0.11,"r":-0.72},
{"t":0.13,"r":1.2},{"t":0.14,"r":2.4},{"t":0.15,"r":3.0},{"t":0.155,"r":2.7},{"t":0.16,"r":3.3},{"t":0.165,"r":2.2},{"t":0.17,"r":1.6},{"t":0.175,"r":2.9},{"t":0.18,"r":0.9},{"t":0.19,"r":0.3},{"t":0.2,"r":-0.6},{"t":0.205,"r":-1.4},{"t":0.21,"r":-2.1},{"t":0.215,"r":-2.7},{"t":0.22,"r":-3.3},{"t":0.225,"r":-2.4},{"t":0.232,"r":-4.83},{"t":0.24,"r":-1.8},{"t":0.25,"r":-0.9},{"t":0.26,"r":0.2},{"t":0.27,"r":1.0},{"t":0.28,"r":1.9},{"t":0.29,"r":2.5},{"t":0.3,"r":2.95},{"t":0.31,"r":2.2},{"t":0.32,"r":1.4},{"t":0.33,"r":0.5},{"t":0.34,"r":-0.4},{"t":0.35,"r":1.1},{"t":0.36,"r":-1.2},
{"t":0.36,"r":-0.42},{"t":0.368,"r":0.81},{"t":0.377,"r":-1.13},{"t":0.385,"r":0.27},{"t":0.394,"r":-0.66},{"t":0.402,"r":1.35},{"t":0.41,"r":-0.08},{"t":0.419,"r":-0.95},{"t":0.427,"r":0.54},{"t":0.436,"r":-1.47},
{"t":0.444,"r":0.12},{"t":0.452,"r":-0.31},{"t":0.461,"r":0.98},{"t":0.469,"r":-0.73},{"t":0.478,"r":1.62},{"t":0.486,"r":-0.19},{"t":0.494,"r":-1.05},{"t":0.503,"r":0.36},{"t":0.511,"r":0.71},{"t":0.52,"r":-0.57},
{"t":0.528,"r":-1.28},{"t":0.536,"r":1.14},{"t":0.545,"r":-0.02},{"t":0.553,"r":0.45},{"t":0.562,"r":-0.88},{"t":0.57,"r":0.23},{"t":0.578,"r":-1.71},{"t":0.587,"r":0.89},{"t":0.595,"r":-0.36},{"t":0.604,"r":1.27},
{"t":0.612,"r":-0.61},{"t":0.62,"r":-0.14},{"t":0.629,"r":0.62},{"t":0.637,"r":-1.19},{"t":0.646,"r":0.05},{"t":0.654,"r":1.48},{"t":0.662,"r":-0.79},{"t":0.671,"r":-0.27},{"t":0.679,"r":0.77},{"t":0.688,"r":-1.36},
{"t":0.696,"r":0.31},{"t":0.704,"r":-0.52},{"t":0.713,"r":1.06},{"t":0.721,"r":-0.93},{"t":0.73,"r":0.18},{"t":0.738,"r":-2.05},{"t":0.746,"r":0.58},{"t":0.755,"r":-0.11},{"t":0.763,"r":1.83},{"t":0.772,"r":-0.69},
{"t":0.78,"r":-0.24},{"t":0.788,"r":0.93},{"t":0.797,"r":-1.52},{"t":0.805,"r":0.41},{"t":0.814,"r":-0.83},{"t":0.822,"r":0.09},{"t":0.83,"r":1.21},{"t":0.839,"r":-0.47},{"t":0.847,"r":-1.01},{"t":0.856,"r":0.66},
{"t":0.864,"r":-0.17},{"t":0.872,"r":1.38},{"t":0.881,"r":-0.74},{"t":0.889,"r":0.25},{"t":0.898,"r":-1.24},{"t":0.906,"r":0.84},{"t":0.914,"r":-0.39},{"t":0.923,"r":0.03},{"t":0.931,"r":1.57},{"t":0.94,"r":-1.63},
{"t":0.948,"r":0.49},{"t":0.956,"r":-0.91},{"t":0.965,"r":0.14},{"t":0.973,"r":-0.56},{"t":0.982,"r":1.09},{"t":0.99,"r":-0.29},{"t":0.998,"r":-1.42},{"t":1.007,"r":0.72},{"t":1.015,"r":-0.05},{"t":1.024,"r":0.38},
{"t":1.032,"r":-1.11},{"t":1.04,"r":1.66},{"t":1.049,"r":-0.63},{"t":1.057,"r":0.21},{"t":1.066,"r":-0.98},{"t":1.074,"r":0.95},{"t":1.082,"r":-0.33},{"t":1.091,"r":-2.31},{"t":1.099,"r":0.57},{"t":1.108,"r":-0.12},
{"t":1.116,"r":1.19},{"t":1.124,"r":-0.77},{"t":1.133,"r":0.34},{"t":1.141,"r":-1.34},{"t":1.15,"r":0.79},{"t":1.158,"r":-0.21},{"t":1.166,"r":2.12},{"t":1.175,"r":-0.59},{"t":1.183,"r":0.07},{"t":1.192,"r":-0.86},
{"t":1.2,"r":0.51},{"t":1.208,"r":-1.57},{"t":1.217,"r":1.01},{"t":1.225,"r":-0.43},{"t":1.234,"r":0.29},{"t":1.242,"r":-0.71},{"t":1.25,"r":1.44},{"t":1.259,"r":-0.15},{"t":1.267,"r":-1.09},{"t":1.276,"r":0.63},
{"t":1.284,"r":-0.35},{"t":1.292,"r":0.17},{"t":1.301,"r":-1.82},{"t":1.309,"r":0.87},{"t":1.318,"r":-0.54},{"t":1.326,"r":1.26},{"t":1.334,"r":-0.07},{"t":1.343,"r":-0.92},{"t":1.351,"r":0.44},{"t":1.36,"r":2.48},
{"t":1.368,"r":-0.68},{"t":1.376,"r":0.11},{"t":1.385,"r":-1.21},{"t":1.393,"r":0.69},{"t":1.402,"r":-0.26},{"t":1.41,"r":1.52},{"t":1.418,"r":-0.81},{"t":1.427,"r":0.33},{"t":1.435,"r":-0.47},{"t":1.444,"r":-1.39},
{"t":1.452,"r":0.92},{"t":1.46,"r":-0.18},{"t":1.469,"r":0.55},{"t":1.477,"r":-1.04},{"t":1.486,"r":1.31},{"t":1.494,"r":-0.62},{"t":1.502,"r":0.06},{"t":1.511,"r":-2.54},{"t":1.519,"r":0.74},{"t":1.528,"r":-0.38},
{"t":1.536,"r":1.08},{"t":1.544,"r":-0.84},{"t":1.553,"r":0.24},{"t":1.561,"r":-1.46},{"t":1.57,"r":0.61},{"t":1.578,"r":-0.09},{"t":1.586,"r":1.73},{"t":1.595,"r":-0.72},{"t":1.603,"r":-0.23},{"t":1.612,"r":0.46},
{"t":1.62,"r":-1.16},{"t":1.628,"r":0.83},{"t":1.637,"r":-0.49},{"t":1.645,"r":1.17},{"t":1.654,"r":-0.97},{"t":1.662,"r":0.28},{"t":1.67,"r":-0.58},{"t":1.679,"r":2.83},{"t":1.687,"r":-0.13},{"t":1.696,"r":-1.68},
{"t":1.704,"r":0.39},{"t":1.712,"r":-0.64},{"t":1.721,"r":0.99},{"t":1.729,"r":-0.32},{"t":1.738,"r":-1.27},{"t":1.746,"r":0.52},{"t":1.754,"r":0.15},{"t":1.763,"r":-0.89},{"t":1.771,"r":1.41},{"t":1.78,"r":-0.44},
{"t":1.788,"r":-0.03},{"t":1.796,"r":-1.33},{"t":1.805,"r":0.68},{"t":1.813,"r":-0.76},{"t":1.822,"r":1.23},{"t":1.83,"r":-0.22},{"t":1.838,"r":0.37},{"t":1.847,"r":-1.02},{"t":1.855,"r":0.86},{"t":1.864,"r":-0.53},
{"t":0.364,"r":0.24},{"t":0.372,"r":-0.93},{"t":0.381,"r":1.52},{"t":0.389,"r":-0.41},{"t":0.398,"r":0.83},{"t":0.406,"r":-0.09},{"t":0.414,"r":-1.21},{"t":0.423,"r":0.47},{"t":0.431,"r":1.01},{"t":0.44,"r":-0.66},
{"t":0.448,"r":0.17},{"t":0.456,"r":-1.38},{"t":0.465,"r":0.74},{"t":0.473,"r":-0.25},{"t":0.482,"r":1.24},{"t":0.49,"r":-0.84},{"t":0.498,"r":0.39},{"t":0.507,"r":-0.03},{"t":0.515,"r":-1.57},{"t":0.524,"r":1.63},
{"t":0.532,"r":-0.49},{"t":0.54,"r":0.91},{"t":0.549,"r":-0.14},{"t":0.557,"r":0.56},{"t":0.566,"r":-1.09},{"t":0.574,"r":0.29},{"t":0.582,"r":1.42},{"t":0.591,"r":-0.72},{"t":0.599,"r":0.05},{"t":0.608,"r":-0.38},
{"t":0.616,"r":1.11},{"t":0.624,"r":-1.66},{"t":0.633,"r":0.63},{"t":0.641,"r":-0.21},{"t":0.65,"r":0.98},{"t":0.658,"r":-0.95},{"t":0.666,"r":0.33},{"t":0.675,"r":2.31},{"t":0.683,"r":-0.57},{"t":0.692,"r":0.12},
{"t":0.7,"r":-1.19},{"t":0.708,"r":0.77},{"t":0.717,"r":-0.34},{"t":0.725,"r":1.34},{"t":0.734,"r":-0.79},{"t":0.742,"r":0.21},{"t":0.75,"r":-2.12},{"t":0.759,"r":0.59},{"t":0.767,"r":-0.07},{"t":0.776,"r":0.86},
{"t":0.784,"r":-0.51},{"t":0.792,"r":1.57},{"t":0.801,"r":-1.01},{"t":0.809,"r":0.43},{"t":0.818,"r":-0.29},{"t":0.826,"r":0.71},{"t":0.834,"r":-1.44},{"t":0.843,"r":0.15},{"t":0.851,"r":1.09},{"t":0.86,"r":-0.63},
{"t":0.868,"r":0.35},{"t":0.876,"r":-0.17},{"t":0.885,"r":1.82},{"t":0.893,"r":-0.87},{"t":0.902,"r":0.54},{"t":0.91,"r":-1.26},{"t":0.918,"r":0.07},{"t":0.927,"r":0.92},{"t":0.935,"r":-0.44},{"t":0.944,"r":-2.48},
{"t":0.952,"r":0.68},{"t":0.96,"r":-0.11},{"t":0.969,"r":1.21},{"t":0.977,"r":-0.69},{"t":0.986,"r":0.26},{"t":0.994,"r":-1.52},{"t":1.002,"r":0.81},{"t":1.011,"r":-0.33},{"t":1.019,"r":0.47},{"t":1.028,"r":1.39},
{"t":1.036,"r":-0.92},{"t":1.044,"r":0.18},{"t":1.053,"r":-0.55},{"t":1.061,"r":1.04},{"t":1.07,"r":-1.31},{"t":1.078,"r":0.62},{"t":1.086,"r":-0.06},{"t":1.095,"r":2.54},{"t":1.103,"r":-0.74},{"t":1.112,"r":0.38},
{"t":1.12,"r":-1.08},{"t":1.128,"r":0.84},{"t":1.137,"r":-0.24},{"t":1.145,"r":1.46},{"t":1.154,"r":-0.61},{"t":1.162,"r":0.09},{"t":1.17,"r":-1.73},{"t":1.179,"r":0.72},{"t":1.187,"r":0.23},{"t":1.196,"r":-0.46},
{"t":1.204,"r":1.16},{"t":1.212,"r":-0.83},{"t":1.221,"r":0.49},{"t":1.229,"r":-1.17},{"t":1.238,"r":0.97},{"t":1.246,"r":-0.28},{"t":1.254,"r":0.58},{"t":1.263,"r":-2.83},{"t":1.271,"r":0.13},{"t":1.28,"r":1.68},
{"t":1.288,"r":-0.39},{"t":1.296,"r":0.64},{"t":1.305,"r":-0.99},{"t":1.313,"r":0.32},{"t":1.322,"r":1.27},{"t":1.33,"r":-0.52},{"t":1.338,"r":-0.15},{"t":1.347,"r":0.89},{"t":1.355,"r":-1.41},{"t":1.364,"r":0.44},
{"t":1.372,"r":0.03},{"t":1.38,"r":1.33},{"t":1.389,"r":-0.68},{"t":1.397,"r":0.76},{"t":1.406,"r":-1.23},{"t":1.414,"r":0.22},{"t":1.422,"r":-0.37},{"t":1.431,"r":1.02},{"t":1.439,"r":-0.86},{"t":1.448,"r":0.53},
{"t":1.456,"r":-1.59},{"t":1.464,"r":0.67},{"t":1.473,"r":0.16},{"t":1.481,"r":-0.47},{"t":1.49,"r":1.58},{"t":1.498,"r":-0.75},{"t":1.506,"r":0.41},{"t":1.515,"r":-1.03},{"t":1.523,"r":0.94},{"t":1.532,"r":-0.19},
{"t":1.54,"r":0.28},{"t":1.548,"r":-1.29},{"t":1.557,"r":1.12},{"t":1.565,"r":-0.59},{"t":1.574,"r":0.06},{"t":1.582,"r":2.19},{"t":1.59,"r":-0.82},{"t":1.599,"r":0.51},{"t":1.607,"r":-0.26},{"t":1.616,"r":-1.12},
{"t":1.624,"r":0.85},{"t":1.632,"r":-0.42},{"t":1.641,"r":1.37},{"t":1.649,"r":-0.96},{"t":1.658,"r":0.19},{"t":1.666,"r":-0.64},{"t":1.674,"r":1.06},{"t":1.683,"r":-1.46},{"t":1.691,"r":0.34},{"t":1.7,"r":-0.01},
{"t":1.708,"r":0.72},{"t":1.716,"r":-1.77},{"t":1.725,"r":0.45},{"t":1.733,"r":1.23},{"t":1.742,"r":-0.53},{"t":1.75,"r":0.1},{"t":1.758,"r":-0.88},{"t":1.767,"r":1.61},{"t":1.775,"r":-0.32},{"t":1.784,"r":0.57},
{"t":1.792,"r":-2.2},{"t":1.8,"r":0.96},{"t":1.809,"r":-0.22},{"t":1.817,"r":0.4},{"t":1.826,"r":-1.16},{"t":1.834,"r":1.29},{"t":1.842,"r":-0.7},{"t":1.851,"r":0.2},{"t":1.859,"r":-0.43},{"t":1.868,"r":0.82},
{"t":1.02,"r":0.9},{"t":1.06,"r":1.3},{"t":1.1,"r":0.6},{"t":1.14,"r":1.7},{"t":1.18,"r":1.1},{"t":1.22,"r":0.4},{"t":1.26,"r":1.5},{"t":1.3,"r":0.8},{"t":1.34,"r":1.9},{"t":1.38,"r":1.2},{"t":1.42,"r":0.5},{"t":1.46,"r":1.6},{"t":1.5,"r":1.0},{"t":1.54,"r":0.3},{"t":1.58,"r":1.4},{"t":1.62,"r":0.7},{"t":1.66,"r":1.2},{"t":1.7,"r":0.2},{"t":1.12,"r":2.0},{"t":1.45,"r":2.1},
{"t":1.28,"r":2.72},{"t":1.58,"r":2.9},{"t":1.4,"r":2.5},{"t":1.15,"r":2.3},{"t":0.95,"r":2.2},{"t":0.62,"r":2.0},{"t":1.85,"r":-3.15},{"t":1.84,"r":-2.95},{"t":1.86,"r":-2.75},{"t":1.83,"r":-3.05},{"t":0.8,"r":-3.3},{"t":1.02,"r":-3.3},{"t":0.7,"r":-2.9},{"t":0.5,"r":-2.6},{"t":1.605,"r":-5.41},{"t":1.65,"r":-2.0},{"t":1.5,"r":-2.3},
{"t":1.84,"r":-0.32},{"t":1.88,"r":-0.25},{"t":1.92,"r":-0.19},{"t":1.96,"r":-0.15},{"t":2.0,"r":-0.1},{"t":2.04,"r":-0.06},{"t":2.08,"r":-0.02},{"t":2.12,"r":0.01},{"t":2.16,"r":0.03},{"t":2.2,"r":0.06},{"t":2.24,"r":0.08},{"t":2.28,"r":0.1},{"t":2.32,"r":0.12},{"t":2.36,"r":0.13},{"t":2.4,"r":0.15},{"t":2.44,"r":0.16},{"t":2.48,"r":0.17},{"t":2.52,"r":0.18},{"t":2.56,"r":0.19},{"t":2.6,"r":0.19},{"t":2.64,"r":0.2},{"t":2.68,"r":0.21},{"t":2.72,"r":0.21},{"t":2.76,"r":0.22},{"t":2.8,"r":0.22},{"t":2.84,"r":0.22},{"t":2.88,"r":0.23},{"t":2.92,"r":0.23},{"t":2.96,"r":0.23},{"t":3.0,"r":0.23},{"t":3.04,"r":0.24},{"t":3.08,"r":0.24},{"t":3.12,"r":0.24},{"t":3.16,"r":0.24},{"t":3.2,"r":0.24},{"t":3.24,"r":0.24},{"t":3.28,"r":0.25},{"t":3.32,"r":0.25},{"t":3.36,"r":0.25},{"t":3.4,"r":0.25},{"t":3.44,"r":0.25},{"t":3.48,"r":0.25},{"t":3.52,"r":0.25},{"t":3.56,"r":0.25},{"t":3.6,"r":0.25},{"t":3.64,"r":0.25},{"t":3.68,"r":0.25},{"t":3.72,"r":0.25},{"t":3.76,"r":0.25},{"t":3.8,"r":0.25},{"t":3.84,"r":0.25},{"t":3.88,"r":0.25},{"t":3.92,"r":0.25},{"t":3.96,"r":0.25},{"t":4.0,"r":0.25},
{"t":1.96,"r":-1.64},{"t":2.0,"r":-1.53},{"t":2.04,"r":-1.43},{"t":2.08,"r":-1.35},{"t":2.12,"r":-1.27},{"t":2.16,"r":-1.2},{"t":2.2,"r":-1.14},{"t":2.24,"r":-1.09},{"t":2.28,"r":-1.04},{"t":2.32,"r":-1.0},{"t":2.36,"r":-0.97},{"t":2.4,"r":-0.93},{"t":2.44,"r":-0.9},{"t":2.48,"r":-0.88},{"t":2.52,"r":-0.86},{"t":2.56,"r":-0.84},{"t":2.6,"r":-0.82},{"t":2.64,"r":-0.8},{"t":2.68,"r":-0.79},{"t":2.72,"r":-0.78},{"t":2.76,"r":-0.77},{"t":2.8,"r":-0.76},{"t":2.84,"r":-0.75},{"t":2.88,"r":-0.74},{"t":2.92,"r":-0.73},{"t":2.96,"r":-0.73},{"t":3.0,"r":-0.72},{"t":3.04,"r":-0.72},{"t":3.08,"r":-0.71},{"t":3.12,"r":-0.71},{"t":3.16,"r":-0.71},{"t":3.2,"r":-0.7},{"t":3.24,"r":-0.7},{"t":3.28,"r":-0.7},{"t":3.32,"r":-0.69},{"t":3.36,"r":-0.69},{"t":3.4,"r":-0.69},{"t":3.44,"r":-0.69},{"t":3.48,"r":-0.68},{"t":3.52,"r":-0.68},{"t":3.56,"r":-0.68},{"t":3.6,"r":-0.68},{"t":3.64,"r":-0.68},{"t":3.68,"r":-0.68},{"t":3.72,"r":-0.68},{"t":3.76,"r":-0.68},{"t":3.8,"r":-0.68},{"t":3.84,"r":-0.68},{"t":3.88,"r":-0.68},{"t":3.92,"r":-0.68},{"t":3.96,"r":-0.68},{"t":4.0,"r":-0.68}
]
},
"hconcat":[
{
"width":357,"height":289,
"resolve":{"axis":{"x":"independent","y":"independent"}},
"layer":[
{"data":{"name":"aU"},"mark":{"type":"circle","size":19,"opacity":1},
"encoding":{
"x":{"field":"t","type":"quantitative","scale":{"domain":[0,2],"nice":false,"zero":false},"axis":{"title":"Time (ms)","values":[0,0.25,0.5,0.75,1,1.25,1.5,1.75,2],"labelExpr":"datum.value % 0.5 == 0 ? format(datum.value, '.1f') : ''","tickSize":{"condition":{"test":"datum.value % 0.5 == 0","value":6},"value":3}}},
"y":{"field":"r","type":"quantitative","scale":{"domain":[-6,6],"nice":false},"axis":{"title":"Residual (counts)","values":[-6,-5,-4,-3,-2,-1,0,1,2,3,4,5,6],"labelExpr":"datum.value % 2 == 0 ? '' + datum.value : ''","tickSize":{"condition":{"test":"datum.value % 2 == 0","value":6},"value":3}}},
"color":{"datum":"UC","type":"nominal","scale":{"domain":["UC","Au/UC"],"range":["#5a5a5a","#b6b6b6"]},
"legend":{"title":null,"orient":"top-right","offset":0,"padding":9,"rowPadding":7,"labelOffset":0,"symbolOffset":4,"symbolSize":16,"symbolType":"circle","symbolStrokeWidth":0,"strokeColor":"#262626","fillColor":"white","labelFontSize":21,"encode":{"legend":{"update":{"strokeWidth":{"value":2}}}}}}
}},
{"data":{"name":"aA"},"mark":{"type":"circle","size":19,"opacity":1},
"encoding":{
"x":{"field":"t","type":"quantitative","axis":{"orient":"top","title":null,"labels":false,"domain":false,"values":[0,0.25,0.5,0.75,1,1.25,1.5,1.75,2],"tickSize":{"condition":{"test":"datum.value % 0.5 == 0","value":-6},"value":-3}}},
"y":{"field":"r","type":"quantitative","axis":{"orient":"right","title":null,"labels":false,"domain":false,"values":[-6,-5,-4,-3,-2,-1,0,1,2,3,4,5,6],"tickSize":{"condition":{"test":"datum.value % 2 == 0","value":-6},"value":-3}}},
"color":{"datum":"Au/UC","type":"nominal"}
}},
{"data":{"values":[{"t":0.05,"r":4.93,"s":"(a)"}]},"mark":{"type":"text","align":"left","baseline":"middle","fontSize":26},
"encoding":{"x":{"field":"t","type":"quantitative","axis":null},"y":{"field":"r","type":"quantitative","axis":null},"text":{"field":"s"}}},
{"data":{"values":[{"t":0.496,"r":4.06,"s":"λ"},{"t":0.706,"r":4.04,"s":"= 541 nm"}]},"mark":{"type":"text","align":"left","baseline":"alphabetic","fontSize":20},
"encoding":{"x":{"field":"t","type":"quantitative","axis":null},"y":{"field":"r","type":"quantitative","axis":null},"text":{"field":"s"}}},
{"data":{"values":[{"t":0.565,"r":3.88,"s":"det"}]},"mark":{"type":"text","align":"left","baseline":"alphabetic","fontSize":11},
"encoding":{"x":{"field":"t","type":"quantitative","axis":null},"y":{"field":"r","type":"quantitative","axis":null},"text":{"field":"s"}}}
]
},
{
"width":356,"height":289,
"resolve":{"axis":{"x":"independent","y":"independent"}},
"layer":[
{"data":{"name":"bU"},"mark":{"type":"circle","size":19,"opacity":1},
"encoding":{
"x":{"field":"t","type":"quantitative","scale":{"domain":[0,4],"nice":false,"zero":false},"axis":{"title":"Time (ms)","values":[0,0.5,1,1.5,2,2.5,3,3.5,4],"labelExpr":"datum.value % 1 == 0 ? format(datum.value, '.1f') : ''","tickSize":{"condition":{"test":"datum.value % 1 == 0","value":6},"value":3}}},
"y":{"field":"r","type":"quantitative","scale":{"domain":[-6,6],"nice":false},"axis":{"title":"Residual (counts)","values":[-6,-5,-4,-3,-2,-1,0,1,2,3,4,5,6],"labelExpr":"datum.value % 2 == 0 ? '' + datum.value : ''","tickSize":{"condition":{"test":"datum.value % 2 == 0","value":6},"value":3}}},
"color":{"datum":"UC","type":"nominal","scale":{"domain":["UC","Au/UC"],"range":["#5a5a5a","#b6b6b6"]},
"legend":{"title":null,"orient":"top-right","offset":0,"padding":9,"rowPadding":7,"labelOffset":0,"symbolOffset":4,"symbolSize":16,"symbolType":"circle","symbolStrokeWidth":0,"strokeColor":"#262626","fillColor":"white","labelFontSize":21,"encode":{"legend":{"update":{"strokeWidth":{"value":2}}}}}}
}},
{"data":{"name":"bA"},"mark":{"type":"circle","size":19,"opacity":1},
"encoding":{
"x":{"field":"t","type":"quantitative","axis":{"orient":"top","title":null,"labels":false,"domain":false,"values":[0,0.5,1,1.5,2,2.5,3,3.5,4],"tickSize":{"condition":{"test":"datum.value % 1 == 0","value":-6},"value":-3}}},
"y":{"field":"r","type":"quantitative","axis":{"orient":"right","title":null,"labels":false,"domain":false,"values":[-6,-5,-4,-3,-2,-1,0,1,2,3,4,5,6],"tickSize":{"condition":{"test":"datum.value % 2 == 0","value":-6},"value":-3}}},
"color":{"datum":"Au/UC","type":"nominal"}
}},
{"data":{"values":[{"t":0.083,"r":4.93,"s":"(b)"}]},"mark":{"type":"text","align":"left","baseline":"middle","fontSize":26},
"encoding":{"x":{"field":"t","type":"quantitative","axis":null},"y":{"field":"r","type":"quantitative","axis":null},"text":{"field":"s"}}},
{"data":{"values":[{"t":0.943,"r":4.06,"s":"λ"},{"t":1.347,"r":4.04,"s":"= 655 nm"}]},"mark":{"type":"text","align":"left","baseline":"alphabetic","fontSize":20},
"encoding":{"x":{"field":"t","type":"quantitative","axis":null},"y":{"field":"r","type":"quantitative","axis":null},"text":{"field":"s"}}},
{"data":{"values":[{"t":1.08,"r":3.88,"s":"det"}]},"mark":{"type":"text","align":"left","baseline":"alphabetic","fontSize":11},
"encoding":{"x":{"field":"t","type":"quantitative","axis":null},"y":{"field":"r","type":"quantitative","axis":null},"text":{"field":"s"}}}
]
}
]
}
